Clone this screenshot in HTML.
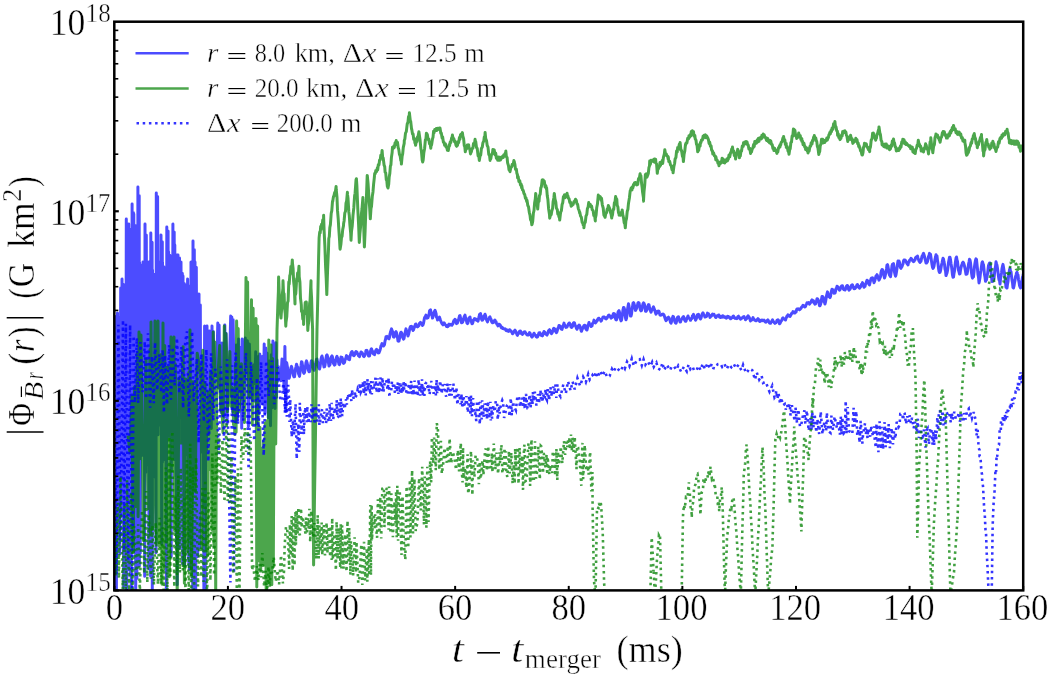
<!DOCTYPE html>
<html><head><meta charset="utf-8"><style>
html,body{margin:0;padding:0;background:#fff;}
svg{display:block;will-change:transform;}
text{font-family:"Liberation Serif",serif;fill:#000;stroke:#fff;stroke-width:0.45px;}
</style></head><body>
<svg width="1051" height="676" viewBox="0 0 1051 676">
<rect width="1051" height="676" fill="#fff"/>
<defs><clipPath id="c"><rect x="114.3" y="21.7" width="908.9" height="568.7"/></clipPath></defs>
<g clip-path="url(#c)">
<path d="M114.0 317.3L114.6 531.6L115.2 316.4L116.4 588.7L117.5 313.0L118.2 502.2L118.8 317.3L119.8 553.7L120.7 288.0L121.4 514.7L122.0 279.0L122.7 516.6L123.3 284.2L123.7 587.7L124.0 290.0L124.7 549.4L125.3 300.0L125.8 534.1L126.3 219.0L126.8 599.9L127.3 240.0L127.4 554.6L127.6 227.8L128.1 530.3L128.6 245.9L128.6 537.1L128.7 224.0L129.3 569.6L130.0 229.3L130.1 512.0L130.2 250.0L130.6 575.8L131.0 262.0L131.2 588.4L131.5 258.0L131.8 547.5L132.1 204.0L132.2 543.7L132.3 265.9L132.9 514.3L133.4 212.7L133.6 461.2L133.8 214.0L134.4 449.6L135.0 250.0L135.1 553.2L135.1 225.4L135.7 598.9L136.2 265.0L136.2 552.9L136.3 254.5L136.9 578.4L137.5 276.5L137.7 427.6L137.9 187.0L138.6 566.1L139.2 195.7L139.4 565.6L139.5 262.0L140.2 553.3L140.8 265.0L141.9 455.4L143.0 262.0L143.7 432.0L144.3 268.4L144.7 576.2L145.0 224.0L145.7 472.4L146.3 234.9L146.9 464.8L147.5 272.0L148.2 439.7L148.8 281.0L148.9 568.7L149.0 262.0L149.7 465.4L150.3 267.3L150.6 576.0L150.8 233.0L151.5 417.8L152.1 242.3L152.3 590.5L152.5 270.0L153.2 477.2L153.8 274.2L154.1 475.9L154.3 282.0L155.0 454.0L155.6 284.8L156.0 552.8L156.3 193.0L157.0 426.7L157.6 196.6L158.1 434.8L158.5 262.0L159.2 400.8L159.8 267.4L160.4 424.9L161.0 235.0L161.7 544.3L162.3 241.7L162.4 462.3L162.5 262.0L163.2 438.2L163.8 266.7L164.2 407.7L164.5 276.0L165.2 459.9L165.8 286.2L166.3 592.6L166.8 227.0L167.5 409.3L168.1 230.9L168.4 436.5L168.6 252.0L169.2 406.3L169.9 255.3L170.2 412.2L170.5 262.0L171.2 556.6L171.8 264.9L172.4 438.8L172.9 224.0L173.6 402.8L174.2 232.0L174.5 459.4L174.8 245.0L175.4 444.3L176.0 262.0L176.1 476.2L176.1 255.5L176.6 544.0L177.0 255.0L177.2 584.7L177.3 270.0L177.7 546.7L178.0 255.0L178.2 454.7L178.3 266.3L178.8 426.4L179.3 264.2L179.4 548.2L179.5 258.0L180.2 413.1L180.8 268.6L180.9 416.9L181.0 262.0L181.7 404.5L182.3 273.3L182.7 564.1L183.0 276.0L183.7 471.8L184.3 283.5L184.7 565.5L185.0 285.0L185.7 451.2L186.3 296.4L186.9 455.0L187.6 279.0L188.1 472.1L188.5 288.0L188.7 562.0L188.9 285.9L189.4 569.4L189.8 292.7L190.4 567.2L191.0 262.0L191.7 554.6L192.3 268.5L192.7 587.9L193.0 241.0L193.7 598.8L194.3 249.7L194.7 455.8L195.0 262.0L195.7 589.6L196.3 267.3L197.7 556.5L199.0 294.0L199.7 547.8L200.3 305.0L200.8 452.5L201.3 355.3L202.3 408.8L203.2 359.4L203.9 594.9L204.6 326.0L205.2 595.1L205.9 330.6L206.4 449.9L207.0 326.0L207.7 404.7L208.3 331.4L208.8 434.4L209.3 331.0L210.0 403.6L210.6 335.6L211.3 428.4L212.0 326.0L212.7 407.9L213.3 331.6L214.3 376.0L215.4 374.8L216.6 376.4L217.8 323.0L218.5 388.0L219.1 325.1L219.6 368.1L220.1 352.9L221.1 412.5L222.1 342.9L222.9 415.5L223.8 355.1L224.3 417.2L224.8 325.0L225.5 376.3L226.1 333.3L227.1 423.7L228.1 367.1L229.4 368.1L230.7 316.0L231.2 396.2L231.8 317.0L231.9 369.3L232.0 320.8L232.6 412.0L233.1 319.7L234.2 388.6L235.4 369.0L235.9 422.4L236.4 345.1L237.5 417.7L238.6 339.0L239.2 390.1L239.9 347.2L240.5 389.8L241.2 364.2L241.7 428.3L242.2 339.0L242.8 409.4L243.5 342.8L244.4 379.4L245.3 338.0L245.8 372.2L246.3 349.8L246.9 369.5L247.4 340.7L248.4 426.5L249.4 344.1L250.3 386.7L251.2 376.6L252.1 399.7L253.1 365.7L253.8 383.7L254.5 364.6L255.1 375.6L255.7 351.8L256.5 423.9L257.2 367.2L258.0 395.0L258.7 356.3L259.3 413.2L259.8 353.9L260.4 393.1L261.0 360.7L261.6 401.4L262.3 356.4L263.2 404.3L264.2 344.0L264.9 413.0L265.7 348.0L266.4 375.6L267.0 353.0L268.3 417.6L269.6 360.9L270.5 425.8L271.3 354.7L272.1 407.8L272.9 340.9L273.5 384.7L274.0 344.5L275.0 408.5L275.9 342.8L276.5 397.4L277.0 360.0L277.6 381.4L278.3 366.4L278.9 375.9L279.5 370.5L280.8 380.8L282.0 359.0L282.6 370.2L283.3 362.5L284.1 390.5L284.9 346.4L285.8 411.4L286.7 362.7L287.5 367.5L288.0 373.0L288.5 377.8L289.0 378.3L289.5 377.1L290.0 374.0L290.5 370.8L291.0 367.6L291.5 366.3L292.0 368.4L292.5 370.8L293.0 372.5L293.5 375.7L294.0 376.8L294.5 376.8L295.0 373.2L295.5 368.9L296.0 366.8L296.5 364.3L297.0 365.8L297.5 366.9L298.0 369.9L298.5 373.6L299.0 374.8L299.5 376.4L300.0 372.7L300.5 368.5L301.0 365.7L301.5 361.8L302.0 362.1L302.5 365.4L303.0 369.7L303.5 372.6L304.0 373.3L304.5 372.5L305.0 369.8L305.5 366.2L306.0 362.4L306.5 360.9L307.0 362.4L307.5 364.9L308.0 367.7L308.5 370.5L309.0 371.8L309.5 371.6L310.0 369.6L310.5 366.1L311.0 362.7L311.5 360.7L312.0 361.0L312.5 363.0L313.0 365.6L313.5 369.0L314.0 370.3L314.5 369.1L315.0 366.6L315.5 363.9L316.0 362.2L316.5 359.2L317.0 359.1L317.5 361.9L318.0 363.7L318.5 367.4L319.0 367.4L319.5 369.0L320.0 367.2L320.5 363.4L321.0 359.4L321.5 357.2L322.0 356.0L322.5 358.0L323.0 362.1L323.5 364.2L324.0 366.9L324.5 366.8L325.0 365.3L325.5 361.4L326.0 358.3L326.5 355.5L327.0 354.9L327.5 356.2L328.0 359.0L328.5 363.1L329.0 366.1L329.5 365.1L330.0 364.6L330.5 361.3L331.0 357.6L331.5 356.6L332.0 355.9L332.5 357.0L333.0 360.5L333.5 363.4L334.0 364.3L334.5 365.1L335.0 364.7L335.5 361.3L336.0 359.5L336.5 357.2L337.0 356.3L337.5 358.1L338.0 359.5L338.5 362.1L339.0 364.3L339.5 364.6L340.0 362.9L340.5 360.2L341.0 357.1L341.5 357.3L342.0 357.5L342.5 359.0L343.0 361.5L343.5 363.4L344.0 363.2L344.5 362.5L345.0 359.9L345.5 359.1L346.0 357.3L346.5 355.6L347.0 356.3L347.5 356.4L348.0 357.8L348.5 359.3L349.0 359.4L349.5 359.7L350.0 356.4L350.5 355.1L351.0 353.0L351.5 352.1L352.0 351.5L352.5 352.5L353.0 354.4L353.5 355.5L354.0 355.8L354.5 355.0L355.0 354.0L355.5 352.3L356.0 351.5L356.5 351.9L357.0 352.1L357.5 353.8L358.0 354.4L358.5 355.8L359.0 355.6L359.5 356.6L360.0 354.3L360.5 353.4L361.0 352.0L361.5 352.4L362.0 352.6L362.5 353.5L363.0 354.7L363.5 356.2L364.0 356.6L364.5 355.9L365.0 355.0L365.5 353.0L366.0 350.6L366.5 351.1L367.0 350.4L367.5 352.5L368.0 353.3L368.5 356.0L369.0 356.1L369.5 355.9L370.0 353.3L370.5 351.2L371.0 349.6L371.5 348.7L372.0 350.5L372.5 351.1L373.0 353.5L373.5 354.0L374.0 354.3L374.5 354.7L375.0 352.6L375.5 351.2L376.0 350.0L376.5 349.4L377.0 349.9L377.5 351.3L378.0 352.9L378.5 352.9L379.0 352.8L379.5 351.4L380.0 350.1L380.5 348.4L381.0 345.8L381.5 344.8L382.0 343.6L382.5 344.8L383.0 345.4L383.5 346.0L384.0 345.4L384.5 344.5L385.0 341.1L385.5 339.4L386.0 336.7L386.5 336.8L387.0 336.4L387.5 337.3L388.0 338.3L388.5 338.4L389.0 338.8L389.5 337.2L390.0 333.9L390.5 332.3L391.0 330.5L391.5 328.9L392.0 330.2L392.5 331.6L393.0 334.8L393.5 336.9L394.0 337.1L394.5 336.4L395.0 334.5L395.5 332.3L396.0 331.7L396.5 332.7L397.0 335.1L397.5 337.6L398.0 341.1L398.5 341.2L399.0 341.0L399.5 338.5L400.0 336.6L400.5 333.2L401.0 332.2L401.5 332.6L402.0 334.3L402.5 335.8L403.0 338.1L403.5 339.1L404.0 338.5L404.5 335.4L405.0 333.2L405.5 331.0L406.0 328.9L406.5 330.6L407.0 332.5L407.5 334.1L408.0 336.0L408.5 334.6L409.0 332.5L409.5 329.9L410.0 327.7L410.5 326.5L411.0 326.7L411.5 326.3L412.0 328.3L412.5 329.2L413.0 330.5L413.5 329.8L414.0 328.3L414.5 326.9L415.0 325.6L415.5 324.1L416.0 324.0L416.5 325.5L417.0 326.5L417.5 326.9L418.0 326.5L418.5 325.7L419.0 325.5L419.5 323.3L420.0 323.2L420.5 322.4L421.0 322.8L421.5 323.5L422.0 323.7L422.5 325.5L423.0 324.8L423.5 323.3L424.0 320.6L424.5 317.8L425.0 316.8L425.5 316.4L426.0 315.1L426.5 317.0L427.0 318.2L427.5 317.4L428.0 317.7L428.5 316.0L429.0 314.6L429.5 311.1L430.0 310.2L430.5 309.8L431.0 312.0L431.5 314.4L432.0 315.6L432.5 318.1L433.0 316.8L433.5 314.8L434.0 312.5L434.5 311.3L435.0 310.4L435.5 311.6L436.0 313.3L436.5 317.3L437.0 317.4L437.5 320.0L438.0 319.4L438.5 318.9L439.0 318.1L439.5 317.0L440.0 319.1L440.5 320.4L441.0 321.5L441.5 322.6L442.0 323.7L442.5 324.2L443.0 324.8L443.5 323.2L444.0 322.9L444.5 323.4L445.0 324.3L445.5 325.0L446.0 325.3L446.5 326.4L447.0 325.9L447.5 326.7L448.0 326.4L448.5 324.7L449.0 324.1L449.5 325.1L450.0 325.2L450.5 324.8L451.0 324.3L451.5 324.6L452.0 325.1L452.5 324.2L453.0 323.6L453.5 321.6L454.0 320.4L454.5 320.2L455.0 319.3L455.5 319.9L456.0 321.6L456.5 323.6L457.0 322.4L457.5 322.9L458.0 321.1L458.5 319.7L459.0 318.2L459.5 315.9L460.0 315.6L460.5 317.9L461.0 320.0L461.5 322.8L462.0 322.8L462.5 322.3L463.0 321.2L463.5 318.8L464.0 317.4L464.5 316.1L465.0 315.1L465.5 317.5L466.0 319.7L466.5 321.0L467.0 323.2L467.5 323.6L468.0 322.7L468.5 319.8L469.0 318.0L469.5 317.6L470.0 317.0L470.5 320.0L471.0 320.2L471.5 322.1L472.0 323.7L472.5 323.4L473.0 322.0L473.5 319.9L474.0 319.9L474.5 318.6L475.0 318.7L475.5 319.1L476.0 319.9L476.5 319.3L477.0 320.4L477.5 320.2L478.0 321.1L478.5 319.2L479.0 317.2L479.5 314.4L480.0 314.2L480.5 313.5L481.0 316.1L481.5 318.9L482.0 320.2L482.5 320.1L483.0 319.4L483.5 318.8L484.0 315.7L484.5 315.6L485.0 314.2L485.5 315.6L486.0 317.7L486.5 319.6L487.0 320.9L487.5 321.9L488.0 319.8L488.5 319.4L489.0 319.0L489.5 317.2L490.0 316.9L490.5 318.6L491.0 319.2L491.5 321.1L492.0 322.4L492.5 322.8L493.0 322.6L493.5 321.3L494.0 320.8L494.5 321.0L495.0 320.0L495.5 322.3L496.0 321.7L496.5 323.3L497.0 324.3L497.5 324.5L498.0 325.9L498.5 324.2L499.0 324.9L499.5 324.4L500.0 325.1L500.5 325.6L501.0 327.1L501.5 327.8L502.0 327.2L502.5 327.6L503.0 328.6L503.5 328.5L504.0 329.0L504.5 329.0L505.0 328.7L505.5 329.4L506.0 330.5L506.5 329.5L507.0 330.4L507.5 331.0L508.0 331.0L508.5 331.4L509.0 330.8L509.5 329.7L510.0 330.9L510.5 330.5L511.0 331.5L511.5 331.5L512.0 332.4L512.5 333.8L513.0 333.4L513.5 332.7L514.0 331.7L514.5 330.8L515.0 330.2L515.5 331.2L516.0 331.9L516.5 333.3L517.0 334.6L517.5 335.3L518.0 333.7L518.5 333.7L519.0 332.4L519.5 331.4L520.0 332.0L520.5 331.1L521.0 332.2L521.5 333.8L522.0 333.2L522.5 334.4L523.0 333.8L523.5 333.0L524.0 332.0L524.5 332.2L525.0 331.8L525.5 332.8L526.0 333.4L526.5 334.1L527.0 334.8L527.5 335.1L528.0 334.8L528.5 335.0L529.0 334.1L529.5 332.6L530.0 333.1L530.5 334.8L531.0 335.1L531.5 336.5L532.0 337.1L532.5 336.5L533.0 334.9L533.5 334.6L534.0 333.2L534.5 334.2L535.0 334.8L535.5 335.2L536.0 336.6L536.5 336.1L537.0 337.1L537.5 336.9L538.0 335.8L538.5 334.2L539.0 332.9L539.5 332.7L540.0 332.8L540.5 333.8L541.0 335.1L541.5 335.5L542.0 335.1L542.5 335.8L543.0 334.4L543.5 333.1L544.0 331.5L544.5 332.1L545.0 332.3L545.5 333.8L546.0 333.9L546.5 334.7L547.0 335.1L547.5 333.7L548.0 333.2L548.5 330.7L549.0 330.2L549.5 329.7L550.0 330.2L550.5 331.5L551.0 332.5L551.5 333.7L552.0 332.9L552.5 331.6L553.0 331.1L553.5 328.4L554.0 328.3L554.5 328.7L555.0 329.0L555.5 331.0L556.0 332.1L556.5 332.7L557.0 331.6L557.5 329.9L558.0 328.1L558.5 327.4L559.0 325.5L559.5 325.7L560.0 326.0L560.5 327.0L561.0 328.7L561.5 329.2L562.0 329.4L562.5 327.5L563.0 325.9L563.5 324.8L564.0 323.1L564.5 324.8L565.0 325.4L565.5 326.5L566.0 327.4L566.5 327.2L567.0 327.0L567.5 325.7L568.0 325.3L568.5 323.7L569.0 323.2L569.5 323.0L570.0 324.1L570.5 324.3L571.0 326.9L571.5 327.4L572.0 327.1L572.5 326.3L573.0 324.5L573.5 323.0L574.0 322.6L574.5 323.0L575.0 325.0L575.5 325.9L576.0 327.0L576.5 328.5L577.0 329.3L577.5 327.6L578.0 327.5L578.5 325.7L579.0 325.1L579.5 325.4L580.0 326.4L580.5 327.8L581.0 330.3L581.5 331.3L582.0 329.8L582.5 328.7L583.0 327.5L583.5 326.6L584.0 325.5L584.5 325.2L585.0 325.4L585.5 328.0L586.0 329.3L586.5 329.8L587.0 330.0L587.5 327.8L588.0 325.1L588.5 324.3L589.0 322.5L589.5 324.0L590.0 324.8L590.5 324.9L591.0 326.5L591.5 325.7L592.0 326.0L592.5 323.4L593.0 323.2L593.5 322.2L594.0 320.1L594.5 321.1L595.0 321.9L595.5 322.9L596.0 322.3L596.5 321.5L597.0 321.0L597.5 320.0L598.0 318.7L598.5 318.2L599.0 318.3L599.5 319.3L600.0 319.3L600.5 319.8L601.0 321.1L601.5 320.7L602.0 319.0L602.5 318.2L603.0 317.1L603.5 316.9L604.0 316.9L604.5 317.2L605.0 317.5L605.5 318.7L606.0 318.9L606.5 318.6L607.0 318.2L607.5 316.8L608.0 316.4L608.5 315.4L609.0 315.1L609.5 316.1L610.0 316.5L610.5 316.3L611.0 318.2L611.5 316.9L612.0 317.5L612.5 317.2L613.0 314.6L613.5 313.5L614.0 314.6L614.5 313.8L615.0 316.4L615.5 318.7L616.0 319.8L616.5 319.9L617.0 318.4L617.5 315.4L618.0 312.2L618.5 311.3L619.0 310.7L619.5 312.3L620.0 316.5L620.5 319.3L621.0 320.9L621.5 320.2L622.0 317.1L622.5 313.8L623.0 309.8L623.5 307.5L624.0 307.7L624.5 309.3L625.0 313.5L625.5 317.9L626.0 319.8L626.5 318.3L627.0 315.0L627.5 309.4L628.0 306.6L628.5 303.8L629.0 306.1L629.5 309.7L630.0 311.9L630.5 316.1L631.0 316.0L631.5 314.2L632.0 309.6L632.5 307.1L633.0 303.2L633.5 302.6L634.0 303.5L634.5 305.6L635.0 307.9L635.5 310.4L636.0 309.5L636.5 308.5L637.0 306.1L637.5 305.2L638.0 302.9L638.5 302.6L639.0 302.8L639.5 305.6L640.0 308.3L640.5 310.2L641.0 310.9L641.5 310.5L642.0 308.5L642.5 305.9L643.0 303.8L643.5 302.9L644.0 303.3L644.5 304.8L645.0 307.2L645.5 311.2L646.0 311.3L646.5 310.6L647.0 308.8L647.5 308.0L648.0 305.6L648.5 304.6L649.0 304.7L649.5 307.7L650.0 309.9L650.5 311.0L651.0 312.2L651.5 310.8L652.0 310.0L652.5 309.3L653.0 307.7L653.5 306.8L654.0 308.6L654.5 309.5L655.0 311.1L655.5 312.8L656.0 314.2L656.5 312.9L657.0 312.9L657.5 311.3L658.0 311.5L658.5 311.0L659.0 311.3L659.5 313.3L660.0 315.0L660.5 315.2L661.0 315.1L661.5 315.0L662.0 314.3L662.5 314.4L663.0 314.1L663.5 314.4L664.0 315.0L664.5 316.5L665.0 318.2L665.5 319.6L666.0 320.6L666.5 320.2L667.0 318.7L667.5 317.8L668.0 317.7L668.5 317.2L669.0 317.7L669.5 319.2L670.0 320.5L670.5 322.5L671.0 323.2L671.5 321.7L672.0 320.3L672.5 317.7L673.0 316.3L673.5 316.8L674.0 318.8L674.5 319.7L675.0 322.2L675.5 322.9L676.0 323.2L676.5 321.6L677.0 319.1L677.5 317.4L678.0 317.0L678.5 316.8L679.0 319.8L679.5 319.8L680.0 322.0L680.5 322.0L681.0 320.4L681.5 319.4L682.0 318.8L682.5 317.8L683.0 317.0L683.5 316.5L684.0 318.8L684.5 319.8L685.0 320.6L685.5 321.3L686.0 321.2L686.5 319.4L687.0 317.7L687.5 317.9L688.0 316.0L688.5 317.4L689.0 318.3L689.5 318.4L690.0 319.2L690.5 320.3L691.0 319.1L691.5 318.8L692.0 318.1L692.5 315.6L693.0 315.5L693.5 314.4L694.0 316.8L694.5 317.6L695.0 318.2L695.5 320.2L696.0 319.4L696.5 318.1L697.0 315.7L697.5 314.6L698.0 314.5L698.5 314.3L699.0 316.1L699.5 317.4L700.0 318.4L700.5 318.9L701.0 318.2L701.5 316.2L702.0 314.4L702.5 313.4L703.0 312.8L703.5 314.4L704.0 314.9L704.5 315.8L705.0 317.1L705.5 317.1L706.0 316.2L706.5 316.5L707.0 315.4L707.5 313.1L708.0 314.5L708.5 313.8L709.0 315.1L709.5 315.2L710.0 317.4L710.5 316.6L711.0 316.2L711.5 315.9L712.0 314.8L712.5 314.1L713.0 314.4L713.5 314.6L714.0 314.4L714.5 315.6L715.0 315.8L715.5 317.3L716.0 317.5L716.5 316.3L717.0 315.7L717.5 315.9L718.0 316.0L718.5 315.1L719.0 315.1L719.5 317.0L720.0 316.6L720.5 317.5L721.0 316.6L721.5 317.0L722.0 317.2L722.5 315.9L723.0 315.7L723.5 316.2L724.0 317.1L724.5 317.3L725.0 316.8L725.5 317.7L726.0 317.6L726.5 318.2L727.0 317.0L727.5 316.3L728.0 317.2L728.5 316.6L729.0 317.0L729.5 317.0L730.0 318.2L730.5 318.8L731.0 318.6L731.5 317.9L732.0 317.6L732.5 317.5L733.0 316.3L733.5 316.0L734.0 317.6L734.5 317.6L735.0 318.3L735.5 318.4L736.0 318.4L736.5 317.9L737.0 318.6L737.5 318.0L738.0 316.5L738.5 316.2L739.0 317.5L739.5 317.6L740.0 318.4L740.5 319.2L741.0 318.3L741.5 318.5L742.0 317.9L742.5 317.7L743.0 317.1L743.5 316.8L744.0 316.5L744.5 317.9L745.0 318.2L745.5 319.8L746.0 318.9L746.5 318.7L747.0 317.8L747.5 316.5L748.0 315.8L748.5 316.4L749.0 317.0L749.5 318.1L750.0 319.5L750.5 321.0L751.0 320.3L751.5 320.1L752.0 319.6L752.5 318.7L753.0 317.6L753.5 319.0L754.0 319.2L754.5 320.0L755.0 320.4L755.5 320.2L756.0 320.8L756.5 320.6L757.0 319.9L757.5 319.3L758.0 318.6L758.5 319.3L759.0 319.7L759.5 321.3L760.0 321.5L760.5 320.8L761.0 320.7L761.5 320.1L762.0 320.6L762.5 320.1L763.0 320.5L763.5 320.5L764.0 320.1L764.5 320.8L765.0 321.7L765.5 322.1L766.0 322.2L766.5 321.7L767.0 320.6L767.5 320.7L768.0 319.9L768.5 321.6L769.0 321.6L769.5 323.0L770.0 323.3L770.5 323.3L771.0 322.2L771.5 321.8L772.0 320.8L772.5 319.8L773.0 321.1L773.5 321.7L774.0 322.4L774.5 322.7L775.0 323.4L775.5 322.7L776.0 322.7L776.5 321.5L777.0 320.2L777.5 320.6L778.0 319.8L778.5 320.3L779.0 322.0L779.5 323.8L780.0 323.4L780.5 322.1L781.0 321.3L781.5 320.7L782.0 319.5L782.5 318.4L783.0 317.9L783.5 319.0L784.0 319.0L784.5 319.2L785.0 319.6L785.5 320.0L786.0 318.4L786.5 317.4L787.0 316.0L787.5 316.1L788.0 314.8L788.5 316.0L789.0 315.6L789.5 315.6L790.0 316.4L790.5 315.6L791.0 314.7L791.5 313.4L792.0 313.4L792.5 312.9L793.0 311.6L793.5 312.0L794.0 312.4L794.5 313.0L795.0 313.0L795.5 311.5L796.0 312.1L796.5 310.1L797.0 308.9L797.5 309.0L798.0 308.7L798.5 309.3L799.0 309.0L799.5 309.8L800.0 309.2L800.5 308.9L801.0 308.3L801.5 307.3L802.0 306.7L802.5 306.2L803.0 305.3L803.5 306.2L804.0 306.5L804.5 306.8L805.0 307.0L805.5 306.5L806.0 304.8L806.5 304.1L807.0 302.8L807.5 303.1L808.0 302.9L808.5 302.6L809.0 302.9L809.5 304.1L810.0 303.4L810.5 302.4L811.0 302.4L811.5 300.6L812.0 299.9L812.5 300.4L813.0 300.5L813.5 300.8L814.0 303.0L814.5 302.8L815.0 304.1L815.5 303.9L816.0 301.8L816.5 301.1L817.0 298.7L817.5 298.7L818.0 299.5L818.5 301.0L819.0 303.3L819.5 305.7L820.0 305.8L820.5 304.4L821.0 302.5L821.5 299.4L822.0 296.4L822.5 296.4L823.0 296.8L823.5 298.5L824.0 301.8L824.5 302.3L825.0 304.0L825.5 302.0L826.0 299.0L826.5 295.9L827.0 293.8L827.5 291.9L828.0 293.8L828.5 295.0L829.0 296.6L829.5 297.0L830.0 297.6L830.5 296.5L831.0 293.1L831.5 290.9L832.0 289.3L832.5 289.5L833.0 290.1L833.5 291.0L834.0 293.3L834.5 292.3L835.0 293.0L835.5 291.4L836.0 288.6L836.5 288.4L837.0 286.3L837.5 286.8L838.0 287.0L838.5 288.4L839.0 289.4L839.5 290.2L840.0 289.7L840.5 288.4L841.0 287.2L841.5 286.1L842.0 285.8L842.5 285.8L843.0 287.7L843.5 289.2L844.0 289.7L844.5 289.9L845.0 290.0L845.5 289.0L846.0 287.5L846.5 286.2L847.0 285.5L847.5 285.5L848.0 286.6L848.5 289.2L849.0 290.2L849.5 289.5L850.0 289.3L850.5 287.9L851.0 286.6L851.5 285.3L852.0 286.0L852.5 284.9L853.0 287.2L853.5 287.1L854.0 288.7L854.5 288.7L855.0 288.5L855.5 287.9L856.0 286.6L856.5 286.2L857.0 284.8L857.5 284.5L858.0 286.7L858.5 286.1L859.0 287.4L859.5 288.2L860.0 286.6L860.5 287.0L861.0 285.6L861.5 284.4L862.0 284.1L862.5 282.6L863.0 284.5L863.5 285.5L864.0 287.3L864.5 286.5L865.0 286.3L865.5 284.2L866.0 283.3L866.5 281.7L867.0 280.2L867.5 280.5L868.0 283.1L868.5 283.3L869.0 284.1L869.5 284.9L870.0 282.6L870.5 280.6L871.0 278.9L871.5 278.1L872.0 278.1L872.5 277.9L873.0 280.2L873.5 280.5L874.0 282.8L874.5 281.5L875.0 280.0L875.5 277.8L876.0 276.0L876.5 275.5L877.0 274.7L877.5 275.8L878.0 278.0L878.5 278.8L879.0 280.2L879.5 279.1L880.0 278.0L880.5 276.7L881.0 272.3L881.5 270.6L882.0 269.5L882.5 269.6L883.0 271.2L883.5 274.1L884.0 276.2L884.5 278.0L885.0 276.6L885.5 274.3L886.0 271.7L886.5 268.8L887.0 265.0L887.5 264.7L888.0 266.7L888.5 269.6L889.0 273.4L889.5 275.2L890.0 275.7L890.5 276.7L891.0 273.4L891.5 270.1L892.0 265.7L892.5 264.4L893.0 264.1L893.5 263.6L894.0 267.0L894.5 272.1L895.0 274.5L895.5 276.2L896.0 274.8L896.5 271.8L897.0 268.3L897.5 263.9L898.0 260.9L898.5 261.3L899.0 261.0L899.5 262.3L900.0 265.8L900.5 267.7L901.0 268.3L901.5 266.8L902.0 266.7L902.5 265.0L903.0 263.9L903.5 260.9L904.0 260.0L904.5 259.9L905.0 259.9L905.5 260.6L906.0 261.4L906.5 262.6L907.0 263.6L907.5 263.5L908.0 264.9L908.5 262.2L909.0 262.3L909.5 260.4L910.0 260.0L910.5 259.4L911.0 258.4L911.5 258.9L912.0 259.7L912.5 260.7L913.0 260.4L913.5 261.7L914.0 261.3L914.5 260.1L915.0 259.9L915.5 257.9L916.0 257.2L916.5 256.9L917.0 256.7L917.5 256.0L918.0 258.2L918.5 259.5L919.0 260.9L919.5 261.6L920.0 262.4L920.5 260.8L921.0 261.2L921.5 258.5L922.0 256.3L922.5 255.5L923.0 254.6L923.5 253.4L924.0 254.7L924.5 256.7L925.0 258.9L925.5 260.7L926.0 263.0L926.5 263.0L927.0 262.4L927.5 261.5L928.0 258.6L928.5 256.7L929.0 255.2L929.5 253.4L930.0 254.0L930.5 254.3L931.0 257.8L931.5 261.1L932.0 264.5L932.5 267.2L933.0 268.4L933.5 267.7L934.0 266.0L934.5 262.8L935.0 259.3L935.5 257.2L936.0 254.8L936.5 256.4L937.0 256.1L937.5 260.6L938.0 263.8L938.5 268.2L939.0 271.2L939.5 272.5L940.0 272.4L940.5 270.8L941.0 268.1L941.5 264.8L942.0 263.1L942.5 260.6L943.0 258.3L943.5 259.1L944.0 261.9L944.5 264.3L945.0 269.1L945.5 270.7L946.0 275.6L946.5 274.3L947.0 273.0L947.5 270.7L948.0 266.8L948.5 262.5L949.0 259.8L949.5 257.2L950.0 257.2L950.5 259.6L951.0 263.5L951.5 266.4L952.0 270.3L952.5 275.0L953.0 277.3L953.5 277.0L954.0 273.4L954.5 271.0L955.0 266.0L955.5 261.4L956.0 258.2L956.5 257.0L957.0 259.9L957.5 261.5L958.0 266.3L958.5 270.3L959.0 271.8L959.5 274.0L960.0 273.7L960.5 270.1L961.0 267.8L961.5 265.7L962.0 264.3L962.5 262.7L963.0 262.2L963.5 262.8L964.0 264.2L964.5 266.1L965.0 268.4L965.5 271.2L966.0 274.3L966.5 273.6L967.0 273.9L967.5 271.6L968.0 268.0L968.5 264.4L969.0 262.0L969.5 259.3L970.0 260.0L970.5 262.7L971.0 267.5L971.5 272.8L972.0 276.3L972.5 278.1L973.0 276.5L973.5 276.9L974.0 272.2L974.5 266.4L975.0 262.9L975.5 260.2L976.0 258.8L976.5 259.6L977.0 264.3L977.5 269.1L978.0 274.8L978.5 277.1L979.0 282.9L979.5 280.6L980.0 277.6L980.5 272.9L981.0 270.2L981.5 266.1L982.0 262.7L982.5 261.8L983.0 263.9L983.5 264.8L984.0 269.4L984.5 274.6L985.0 277.3L985.5 281.3L986.0 280.1L986.5 279.8L987.0 275.9L987.5 274.1L988.0 269.6L988.5 265.5L989.0 264.2L989.5 263.1L990.0 263.1L990.5 266.9L991.0 271.3L991.5 276.6L992.0 281.6L992.5 281.2L993.0 281.3L993.5 280.5L994.0 278.4L994.5 273.5L995.0 268.9L995.5 266.7L996.0 261.8L996.5 263.7L997.0 265.2L997.5 268.5L998.0 272.3L998.5 276.6L999.0 279.8L999.5 280.5L1000.0 284.1L1000.5 279.0L1001.0 276.1L1001.5 273.0L1002.0 268.6L1002.5 266.2L1003.0 264.4L1003.5 267.3L1004.0 270.4L1004.5 273.2L1005.0 277.9L1005.5 282.2L1006.0 287.3L1006.5 285.8L1007.0 288.1L1007.5 284.1L1008.0 281.7L1008.5 276.7L1009.0 273.2L1009.5 269.8L1010.0 268.4L1010.5 271.5L1011.0 271.6L1011.5 276.1L1012.0 280.1L1012.5 282.6L1013.0 287.5L1013.5 288.0L1014.0 285.9L1014.5 282.8L1015.0 280.5L1015.5 276.8L1016.0 275.1L1016.5 273.1L1017.0 272.2L1017.5 274.2L1018.0 275.0L1018.5 279.7L1019.0 282.0L1019.5 285.4L1020.0 286.8L1020.5 287.9L1021.0 284.9L1021.5 284.0L1022.0 280.5L1022.5 277.1L1023.0 275.6L1023.5 273.4L1024.0 272.0L1024.5 274.3L1025.0 278.1" stroke="#0000ff" stroke-opacity="0.7" stroke-width="3.0" fill="none" stroke-linejoin="round"/>
<path d="M128.0 435.5L130.0 452.7L131.9 396.4L133.2 552.5L134.6 386.9L135.9 506.7L137.3 353.4L138.1 516.8L139.0 332.0L140.0 458.8L141.0 335.0L143.5 540.8L146.0 359.0L148.0 508.4L150.0 349.5L150.5 533.5L151.0 322.0L153.0 528.7L155.0 321.0L156.5 543.1L158.0 321.0L159.5 546.6L161.0 354.8L162.0 584.2L163.0 323.0L163.8 568.9L164.7 345.6L166.2 541.6L167.7 367.1L169.4 576.8L171.0 337.0L172.5 470.5L174.0 337.0L174.6 530.8L175.3 363.8L177.2 594.7L179.1 378.2L181.1 443.0L183.1 346.8L184.4 583.2L185.7 379.1L187.3 551.6L188.8 372.5L189.4 539.1L190.0 330.0L191.5 576.8L192.9 381.7L195.1 491.4L197.2 353.2L201.0 376.5L202.0 548.3L202.9 350.3L204.0 505.3L205.0 383.6L206.1 549.4L207.2 405.2L207.8 555.6L208.4 392.1L209.6 469.5L210.8 371.9L212.0 530.3L213.2 332.0L214.0 546.5L214.8 341.9L215.7 595.2L216.6 399.1L217.3 385.2L218.1 372.4L218.9 358.7L219.7 345.5L220.7 410.4L221.7 403.7L223.0 432.8L224.3 326.0L225.1 383.5L225.9 333.7L226.6 350.9L227.4 411.8L228.2 390.4L229.0 376.8L229.9 351.5L230.8 406.2L231.8 387.3L232.9 389.1L233.5 424.8L234.1 400.3L234.8 434.5L235.6 363.0L236.1 432.2L236.6 321.0L237.4 358.1L238.2 328.4L239.0 412.0L239.8 401.4L240.6 397.8L241.4 363.8L242.2 395.0L243.0 372.7L244.5 422.6L246.0 277.6L246.8 364.6L247.6 281.9L248.3 373.0L249.0 397.0L250.2 384.2L251.5 299.7L252.3 424.7L253.1 308.2L253.7 401.2L254.3 357.1L255.2 373.7L256.0 318.6L256.8 587.1L257.6 325.9L258.8 560.8L259.9 427.3L260.7 569.8L261.5 448.3L262.6 563.8L263.6 440.6L264.5 565.0L265.3 423.0L266.2 595.6L267.0 420.8L267.9 583.1L268.8 340.0L269.6 580.4L270.4 348.8L270.7 583.5L271.0 345.0L271.8 584.8L272.6 358.6L273.3 567.0L273.9 438.8L274.8 396.3L275.7 444.0L277.0 330.7L277.8 306.4L278.4 291.3L278.6 276.9L279.4 299.1L280.0 302.4L280.6 314.9L281.0 318.1L281.7 307.9L282.2 295.3L282.9 288.5L283.0 280.7L283.5 292.9L284.1 293.8L284.6 308.2L285.2 313.2L285.8 326.3L286.0 322.3L286.8 316.5L287.5 302.8L288.1 301.1L288.8 281.9L289.2 284.2L289.8 275.5L290.3 274.2L290.9 266.4L291.6 269.7L292.3 259.9L292.5 263.3L293.1 268.6L293.6 281.0L294.3 287.6L295.0 303.9L295.0 295.9L295.8 293.5L296.7 278.7L297.0 281.3L297.6 273.0L298.2 276.3L299.0 266.2L299.2 276.6L299.9 281.9L300.5 298.3L301.3 304.9L301.5 311.4L302.2 311.1L302.8 319.2L303.5 315.6L303.6 324.4L304.1 311.1L304.6 313.7L305.2 302.7L305.8 301.9L306.3 302.0L306.7 314.0L307.3 314.7L307.8 330.4L308.0 326.6L308.9 320.5L309.6 303.2L310.1 300.3L311.0 280.7L311.0 287.6L311.6 298.4L312.2 319.8L312.6 329.4L313.2 500.5L313.6 565.1L314.1 529.4L314.5 497.2L315.3 447.1L315.8 412.4L316.6 355.4L317.0 329.4L317.9 292.5L318.6 257.8L319.1 237.8L319.7 232.1L320.2 232.9L320.7 226.4L321.0 229.5L321.6 224.2L322.2 226.4L322.7 220.1L323.6 220.3L323.6 215.3L324.1 230.4L324.9 246.6L325.6 266.7L326.2 278.3L326.8 294.6L327.6 269.7L328.5 249.1L328.8 238.5L329.3 236.5L329.8 227.8L330.4 224.6L331.2 213.5L331.8 210.6L332.5 201.3L332.7 201.4L333.5 196.4L333.9 196.1L334.7 192.4L335.3 192.4L336.1 186.5L336.2 189.2L337.0 197.5L337.5 210.4L338.2 218.5L338.7 227.4L339.5 239.2L340.0 248.3L340.1 249.2L340.9 244.3L341.5 237.7L342.1 236.2L342.7 229.6L343.5 225.7L343.6 223.5L344.1 221.0L344.8 213.0L345.5 211.3L346.0 203.2L346.6 201.1L347.4 192.3L347.5 194.4L348.0 198.1L348.8 211.7L349.3 215.6L349.9 224.8L350.7 233.4L351.0 240.3L351.5 231.3L352.2 226.3L353.0 215.3L353.8 207.9L354.6 195.8L355.1 193.2L356.0 180.0L356.4 178.7L356.9 186.2L357.8 209.0L358.6 224.6L359.3 242.4L359.9 233.5L360.6 226.6L361.4 213.9L362.0 208.8L362.9 197.6L362.9 199.4L363.4 212.7L364.0 235.9L364.4 247.0L365.1 231.2L365.8 210.9L366.4 198.4L367.2 175.5L367.3 175.6L368.1 184.0L368.8 195.7L369.6 207.0L370.3 218.8L371.0 208.5L371.5 206.5L372.3 196.4L373.0 191.7L373.6 184.2L374.3 177.9L374.7 173.5L375.2 173.7L375.8 170.6L376.5 171.7L377.4 167.8L377.7 169.9L378.3 164.8L379.0 164.9L379.6 160.0L380.2 159.9L380.8 155.2L381.6 155.4L382.1 150.4L382.7 157.8L383.2 158.0L384.1 165.2L384.7 166.6L385.1 172.1L385.7 172.9L386.3 179.8L386.8 180.6L387.3 186.2L388.0 188.0L388.7 184.2L389.2 177.0L389.8 173.6L390.4 166.0L390.9 164.8L391.4 157.6L392.1 152.8L392.5 147.2L393.3 148.5L393.8 146.1L394.3 147.6L395.1 142.8L395.7 144.5L396.2 140.6L396.9 143.0L397.5 142.4L398.1 147.3L398.8 149.6L399.4 154.1L400.2 156.1L400.8 160.5L401.3 161.3L401.4 164.1L402.1 156.5L402.7 153.6L403.3 147.4L404.2 143.4L404.3 140.4L404.9 138.7L405.5 133.1L406.3 131.6L407.2 124.1L408.0 122.0L408.5 116.9L409.3 115.1L409.4 112.8L410.3 120.7L410.7 121.3L411.6 129.4L411.7 129.0L412.5 134.0L413.1 134.0L413.7 139.3L414.5 138.6L414.9 142.9L415.5 143.8L415.6 145.3L416.2 141.9L416.9 141.6L417.5 137.0L418.1 136.3L418.9 131.7L419.1 133.1L420.0 139.5L420.9 148.9L421.4 150.9L422.2 160.2L422.7 162.0L423.2 159.8L423.8 153.1L424.6 148.4L425.4 139.6L425.9 139.2L426.4 133.2L426.5 133.2L427.3 134.5L428.1 139.4L428.8 139.0L429.5 143.8L430.0 142.8L430.8 148.2L431.0 145.8L431.6 144.9L432.5 138.9L433.0 137.3L433.6 131.2L434.0 132.9L434.8 129.4L435.6 130.6L436.3 128.5L437.0 130.4L437.6 128.4L438.4 129.1L439.1 128.2L439.7 129.8L440.0 128.0L440.8 133.3L441.3 133.1L442.1 137.9L442.6 136.8L443.4 142.2L444.1 142.5L444.6 145.2L445.4 143.8L446.0 147.0L446.7 147.0L447.4 150.3L448.0 147.6L448.3 150.6L449.2 144.8L449.6 145.7L450.2 141.9L450.8 142.6L451.6 138.0L452.2 137.0L452.4 135.1L453.0 138.1L453.8 138.5L454.5 141.7L455.1 141.2L456.0 145.3L456.6 146.3L457.5 145.3L458.1 141.8L458.7 142.5L459.4 137.6L459.9 139.2L460.5 134.8L460.7 135.8L461.3 134.1L461.7 135.7L462.4 132.6L462.8 135.9L463.6 138.6L464.3 145.8L464.8 146.6L465.3 151.8L465.8 148.7L466.5 149.0L467.3 145.0L468.0 145.3L468.6 144.8L469.1 148.3L469.8 149.1L470.5 153.9L470.6 153.5L471.4 151.7L472.0 148.4L472.9 148.2L473.5 143.5L474.3 144.9L475.1 139.3L475.2 141.2L475.7 141.4L476.5 147.5L477.2 148.4L478.1 155.8L478.9 156.7L479.3 160.4L480.0 156.1L480.7 155.0L481.4 148.6L482.3 147.0L482.9 142.8L483.8 140.9L484.3 136.9L484.9 136.4L485.1 132.5L485.7 138.6L486.5 140.5L487.2 145.5L488.0 147.2L488.8 154.7L489.5 155.0L490.1 160.4L490.3 158.8L490.8 158.8L491.5 154.5L492.4 153.6L492.9 149.4L493.4 150.8L494.2 149.8L495.0 154.7L495.7 153.2L496.4 158.3L497.0 157.1L497.7 160.1L498.2 157.1L499.1 160.4L499.8 157.3L500.5 160.0L501.1 157.4L501.9 158.1L502.5 156.4L503.2 157.5L503.9 154.9L504.4 156.0L505.2 153.2L505.8 154.8L505.8 151.0L506.4 156.8L507.1 157.6L507.6 162.9L508.5 165.7L509.0 169.9L509.4 169.6L510.0 171.7L510.9 167.5L511.5 167.1L512.3 164.2L513.1 165.1L513.9 160.5L514.1 161.5L514.9 164.5L515.5 169.4L516.4 169.3L516.9 173.7L517.4 174.4L517.6 177.9L518.2 176.6L518.9 181.6L519.7 180.6L520.5 185.1L521.1 184.1L521.6 187.7L521.8 185.8L522.5 189.9L523.2 190.3L524.0 193.6L524.7 194.5L525.4 198.2L525.9 197.7L526.7 201.3L527.0 200.1L527.8 205.5L528.5 206.8L529.3 212.3L530.0 215.1L530.5 219.5L531.4 221.3L531.8 224.8L532.1 224.3L532.7 221.5L533.4 213.0L534.0 210.6L534.6 203.0L535.3 199.0L535.7 193.4L536.6 201.8L537.1 203.2L537.7 209.0L538.3 201.9L539.0 201.3L539.5 195.4L540.2 194.2L540.8 188.0L541.4 186.7L542.2 179.9L542.5 179.8L543.2 179.9L543.8 182.3L544.3 181.2L545.1 187.0L545.8 185.5L546.4 189.0L546.6 187.8L547.3 196.1L547.9 199.6L548.6 208.7L549.5 214.5L549.7 218.2L550.5 215.1L551.2 214.7L551.8 211.1L552.6 208.3L553.1 201.9L553.9 197.7L554.3 193.5L555.0 199.2L555.8 202.1L556.4 208.1L557.3 209.7L557.8 214.1L558.3 212.7L558.9 216.9L559.4 217.2L559.7 220.0L560.6 212.3L561.4 210.6L562.1 204.4L562.8 202.4L563.4 196.7L563.8 196.7L564.5 194.8L565.1 197.7L565.6 194.7L566.4 196.8L567.1 193.3L567.3 196.8L567.8 195.7L568.5 198.4L569.1 198.8L569.8 202.5L570.4 201.9L571.2 206.3L571.5 204.6L572.0 205.4L572.6 203.7L573.1 204.5L574.0 201.4L574.7 201.5L575.5 199.2L575.6 200.9L576.3 200.3L576.9 203.7L577.6 204.2L578.3 208.6L579.1 210.5L579.7 213.3L579.8 212.3L580.6 216.2L581.3 217.1L582.2 222.6L582.8 222.8L583.3 225.4L583.9 225.5L583.9 227.7L584.5 223.2L585.3 222.2L586.0 216.1L586.8 214.3L587.4 208.7L588.1 207.2L588.7 202.6L589.4 206.1L590.3 204.3L591.0 206.9L591.6 206.0L592.2 209.7L593.1 210.5L593.8 215.5L594.6 215.4L595.3 220.9L595.3 218.3L596.1 214.8L596.7 207.8L597.4 204.3L598.3 195.1L598.4 197.6L598.9 196.5L599.5 197.9L600.3 196.7L601.1 200.2L601.5 198.2L602.3 204.8L603.2 208.0L603.9 215.2L604.6 216.2L605.1 217.3L605.7 213.7L606.5 212.7L607.2 209.1L607.7 209.8L608.3 205.6L608.7 206.3L609.6 208.3L610.3 212.1L611.1 214.3L611.7 218.1L611.8 217.0L612.5 214.9L613.1 209.6L613.7 209.6L614.4 202.7L614.9 202.8L615.6 196.6L616.0 198.1L616.8 199.3L617.2 205.3L617.9 207.0L618.5 212.9L619.0 213.1L619.1 215.2L619.6 213.4L620.5 215.1L621.1 212.5L621.8 213.7L622.2 209.9L622.9 215.4L623.5 217.6L624.2 222.8L624.8 223.6L625.3 227.8L625.9 220.9L626.5 218.6L627.2 211.6L627.9 209.3L628.5 203.2L629.4 198.0L630.2 190.9L630.5 190.5L631.2 188.0L632.0 189.9L632.1 187.0L632.9 187.7L633.5 184.5L634.0 185.3L634.5 182.9L635.2 182.5L636.1 182.8L636.9 184.9L637.2 183.4L637.7 184.5L638.5 178.6L639.3 178.5L640.1 173.8L640.4 175.1L640.9 175.8L641.6 183.6L642.1 187.2L642.6 192.3L643.5 198.1L643.5 201.2L644.0 191.9L644.7 185.2L645.4 174.4L645.5 176.0L646.3 173.9L646.9 177.2L647.6 175.5L648.3 173.6L648.9 167.8L649.5 165.9L649.7 161.1L650.3 164.4L651.1 160.3L651.9 161.4L652.4 160.2L652.8 161.3L653.3 159.8L654.0 161.9L654.5 158.9L655.0 162.3L655.6 159.2L655.9 162.9L656.6 164.1L657.3 173.3L658.0 167.9L658.5 168.7L659.0 166.5L659.5 166.8L660.0 162.4L660.5 165.4L661.2 162.0L661.7 163.3L662.4 160.4L662.7 163.4L663.4 157.5L664.3 154.2L664.8 149.7L665.6 154.4L666.3 154.0L666.8 155.8L667.6 155.9L668.2 159.3L668.3 157.1L668.8 161.6L669.6 161.2L670.5 164.9L671.2 165.7L672.0 169.6L672.8 169.4L673.1 172.8L673.9 166.4L674.6 163.5L675.1 159.0L675.9 157.6L676.6 151.0L677.2 152.0L677.7 147.5L678.4 149.2L679.3 144.3L679.9 145.3L680.1 142.5L680.9 150.2L681.5 150.3L682.4 156.1L683.1 157.7L683.4 161.6L684.1 154.1L684.8 150.9L685.5 144.3L685.5 145.4L686.1 142.9L686.9 142.9L687.7 138.3L688.5 138.9L689.0 135.7L689.6 137.3L690.1 134.7L690.8 135.9L691.3 131.4L691.8 134.2L692.4 130.7L692.7 132.2L693.5 131.6L694.0 136.2L694.8 135.3L695.2 138.7L696.0 140.2L696.5 144.4L697.0 144.7L697.7 151.8L697.9 150.4L698.7 150.4L699.5 144.5L700.1 146.0L700.4 142.6L700.9 142.8L701.5 139.9L702.4 140.0L703.2 135.9L703.5 138.2L704.2 135.4L704.7 137.2L705.5 134.8L706.1 137.8L706.7 135.9L707.6 137.6L708.4 139.5L709.1 143.6L709.7 142.2L710.4 146.3L711.1 145.9L711.6 150.2L712.4 150.8L712.8 154.1L713.6 152.8L714.4 155.9L715.3 156.0L715.8 159.8L715.9 156.9L716.6 160.2L717.2 160.2L718.0 163.3L718.5 163.2L719.0 165.8L719.7 162.3L720.2 163.9L720.8 161.7L721.5 162.4L722.1 158.3L722.1 161.8L722.8 158.7L723.6 162.5L724.4 160.0L724.9 162.9L725.2 160.8L726.0 161.7L726.8 159.1L727.5 160.8L728.0 158.2L728.3 159.2L729.0 154.9L729.7 156.9L730.6 152.6L731.1 152.3L731.7 149.1L732.4 150.1L732.5 147.1L733.1 152.2L733.8 151.1L734.3 155.5L735.1 154.6L735.6 159.0L736.4 153.1L737.2 153.3L737.7 149.3L738.3 153.5L738.8 152.3L739.4 157.8L739.7 155.4L740.3 156.0L741.0 150.7L741.5 151.4L742.3 145.9L743.2 146.3L743.5 142.8L744.1 144.4L744.7 142.1L745.5 143.8L746.1 141.6L746.5 143.0L747.0 141.8L747.7 145.0L748.2 145.0L748.9 148.9L749.8 148.3L750.6 153.4L750.7 152.2L751.5 151.9L752.3 148.6L752.9 148.1L753.6 144.5L754.2 146.5L754.8 141.5L755.3 142.6L755.8 141.6L756.5 143.1L757.3 139.7L758.0 141.9L758.5 138.2L759.0 141.3L759.4 138.1L760.3 139.2L760.8 137.4L761.4 138.9L761.9 135.2L762.6 137.3L763.2 133.9L763.5 136.6L764.2 134.9L765.0 137.5L765.8 137.9L766.5 140.4L766.6 138.0L767.2 140.2L767.7 138.5L768.2 141.5L768.7 139.9L769.5 142.9L770.2 140.5L770.7 142.9L770.8 141.1L771.5 144.4L772.2 144.5L772.9 148.5L773.5 147.6L773.9 150.5L774.7 148.5L775.5 150.6L776.0 150.3L776.9 153.4L777.0 150.3L777.8 151.9L778.5 147.8L778.9 148.1L779.6 145.8L780.1 146.8L780.1 144.5L780.7 144.9L781.2 142.2L782.1 141.7L782.9 138.1L783.4 140.5L783.6 136.5L784.1 140.1L784.8 139.8L785.4 144.5L786.2 143.5L786.3 147.4L787.2 146.6L788.0 151.1L788.7 152.0L789.0 154.2L789.7 149.6L790.2 148.9L790.9 142.4L791.5 142.0L792.1 136.1L792.8 136.2L793.4 129.0L794.0 129.3L794.9 130.5L795.7 136.0L796.4 136.3L796.7 138.5L797.4 135.6L798.0 137.3L798.7 133.1L799.4 136.1L800.2 135.6L800.9 139.5L801.8 138.6L801.8 141.3L802.5 141.1L803.1 144.7L803.9 143.0L804.7 146.9L805.0 146.3L805.6 149.6L806.4 147.7L807.2 151.0L807.9 149.7L808.0 153.0L808.6 148.4L809.1 151.2L810.0 146.2L810.6 146.4L811.2 142.8L812.0 144.0L812.4 140.6L813.0 141.1L813.6 137.2L814.1 137.9L814.3 135.5L815.1 139.0L815.7 137.8L816.4 141.0L816.7 141.1L817.4 146.5L818.0 148.2L818.8 154.5L819.0 153.2L819.7 151.7L820.2 146.0L821.0 143.8L821.5 139.3L822.1 141.7L822.7 139.2L823.4 142.9L824.3 141.0L824.6 142.6L825.2 140.3L826.1 140.8L826.8 138.0L827.3 140.1L827.7 138.8L828.4 137.6L828.9 134.8L829.4 134.8L829.8 132.5L830.3 133.9L831.0 130.6L831.4 131.8L832.1 127.9L832.9 129.2L833.6 123.7L834.5 124.9L834.9 121.4L835.4 126.4L836.0 126.8L836.7 130.8L837.4 131.3L837.6 135.5L838.2 133.6L838.8 137.4L839.3 137.0L840.0 139.6L840.3 138.6L840.9 138.4L841.6 134.9L842.1 136.0L842.7 131.5L842.8 133.7L843.5 131.3L844.2 132.3L845.0 130.9L845.3 132.7L845.9 132.1L846.4 135.4L846.9 136.0L847.8 141.4L848.0 139.0L848.6 139.8L849.4 137.1L850.1 137.6L850.6 135.2L851.4 139.7L852.1 138.7L852.8 143.4L853.1 141.3L853.9 142.1L854.5 140.3L855.3 141.0L855.8 138.3L856.2 141.3L857.0 139.7L857.7 143.8L858.2 143.0L858.7 146.6L859.2 145.5L859.3 147.5L859.9 147.5L860.5 150.8L861.2 151.5L861.9 154.8L862.4 155.0L863.0 152.7L863.5 147.3L864.2 145.7L864.5 143.2L865.4 145.1L866.2 143.7L867.1 147.3L867.8 147.2L868.3 149.5L868.8 147.9L869.7 151.6L869.7 149.2L870.5 146.7L871.2 140.2L872.1 138.5L872.6 133.3L872.8 133.6L873.4 133.2L874.2 136.9L875.0 137.3L875.7 140.2L875.9 138.0L876.4 138.4L877.0 134.1L877.5 134.1L878.4 130.1L878.8 130.3L879.0 126.9L879.8 132.6L880.4 134.4L881.1 140.2L881.8 141.4L882.1 145.0L882.8 144.0L883.6 146.4L884.4 144.2L884.9 147.0L885.5 144.1L886.2 146.8L886.3 144.1L886.9 147.9L887.5 145.8L888.1 148.1L888.9 146.4L889.6 149.8L890.1 146.9L890.4 149.0L891.2 145.1L891.8 146.2L892.3 141.1L893.1 141.2L893.5 139.0L894.0 142.9L894.5 142.7L895.3 147.0L895.8 147.2L896.3 150.9L896.6 148.8L897.3 150.6L898.2 148.7L898.8 150.5L899.6 147.9L899.7 149.1L900.4 146.0L901.0 147.1L901.8 141.7L902.6 141.2L902.8 139.2L903.5 141.9L904.0 139.6L904.5 143.6L905.3 141.8L905.9 144.5L906.6 143.3L907.0 144.7L907.5 144.4L908.1 145.6L908.9 145.5L909.4 146.6L910.2 145.9L910.7 148.7L911.1 146.9L911.6 148.6L912.3 147.2L912.9 151.9L913.6 150.0L914.1 152.7L914.9 150.6L915.2 153.5L915.8 149.3L916.6 148.1L917.1 145.2L917.7 145.6L918.3 140.2L919.1 144.5L919.6 144.4L920.2 147.0L920.7 146.3L921.2 151.0L921.4 148.2L922.1 151.0L922.8 150.8L923.5 152.0L924.3 148.0L924.9 148.0L925.6 143.7L925.6 146.1L926.2 145.1L926.9 148.9L927.8 148.5L928.5 153.9L928.7 151.0L929.5 148.3L930.1 141.9L930.7 141.6L930.8 137.8L931.6 145.4L932.3 148.0L932.8 152.7L933.6 146.4L934.4 144.7L935.0 137.7L935.8 135.3L935.9 134.0L936.6 135.7L937.5 135.1L938.3 138.2L938.8 137.5L939.4 140.5L939.8 139.7L940.1 142.3L940.8 138.3L941.6 137.0L942.4 132.7L943.0 133.8L943.2 131.5L943.8 133.9L944.3 131.7L945.0 135.2L945.8 134.9L946.5 138.1L947.3 136.4L947.3 138.1L947.9 134.9L948.5 136.4L948.9 133.7L949.4 135.7L950.2 131.6L950.8 133.1L951.2 130.2L951.8 130.7L952.3 127.6L953.1 129.4L953.5 125.4L954.4 129.5L955.2 128.8L956.0 132.7L956.6 131.5L957.5 134.4L957.9 132.1L958.5 133.4L959.3 132.2L959.8 134.9L960.7 133.8L961.5 138.1L962.3 137.6L962.9 140.9L963.6 140.2L964.3 141.9L964.8 140.1L964.9 142.7L965.5 145.9L966.1 153.0L966.6 155.2L967.3 154.5L968.0 151.2L968.4 152.5L968.9 148.1L969.1 150.4L969.6 147.1L970.3 146.2L971.1 142.6L971.6 143.3L972.3 138.8L972.9 138.7L973.4 135.4L974.2 135.1L974.2 133.5L974.8 137.2L975.5 138.7L976.1 143.6L976.9 143.2L977.3 147.7L978.0 143.3L978.5 144.8L979.0 141.5L979.5 141.4L980.4 137.6L981.0 137.5L981.5 134.4L981.5 136.9L982.2 141.1L983.0 150.9L983.5 152.0L983.6 155.9L984.1 151.4L985.0 149.6L985.8 142.7L986.7 140.7L986.7 139.4L987.4 144.1L988.2 144.2L988.8 147.2L989.3 146.8L989.8 149.3L990.3 147.0L991.1 147.9L991.8 142.9L992.6 143.8L992.9 141.3L993.4 145.4L993.9 143.7L994.6 148.0L995.4 148.8L996.0 151.5L996.8 147.7L997.7 147.0L998.5 141.7L999.1 143.1L1000.0 138.4L1000.1 139.1L1000.8 137.3L1001.5 138.2L1002.0 134.9L1002.5 136.7L1003.3 133.7L1003.8 135.3L1004.3 133.8L1004.9 134.7L1005.7 131.2L1006.4 132.7L1007.1 129.2L1007.4 131.6L1008.1 133.1L1008.8 138.6L1009.3 140.0L1009.4 142.9L1009.9 140.8L1010.7 143.0L1011.2 140.5L1011.6 143.7L1012.4 141.0L1013.2 143.4L1013.6 140.9L1014.4 144.3L1015.0 141.3L1015.6 144.2L1016.3 140.9L1016.8 144.2L1017.5 141.2L1017.7 143.0L1018.5 142.8L1019.0 147.3L1019.6 145.5L1020.5 151.3L1020.8 149.6L1021.5 150.1L1022.3 145.8L1023.0 146.0" stroke="#008000" stroke-opacity="0.7" stroke-width="3.0" fill="none" stroke-linejoin="round"/>
<path d="M114.0 326.5L116.4 574.4L118.4 324.7L120.5 540.4L123.0 319.9L124.1 550.6L125.9 323.8L128.2 561.4L130.1 324.8L132.3 599.4L133.6 335.8L134.9 402.7L136.8 338.0L138.2 403.0L140.4 342.1L142.6 392.2L144.8 341.7L146.1 398.7L148.0 333.4L150.1 407.7L151.8 356.3L153.8 403.2L155.0 342.5L157.2 390.3L159.2 354.2L161.3 392.5L162.7 349.9L163.9 412.6L165.0 355.2L167.0 404.5L169.1 345.0L170.9 399.6L172.8 347.0L174.6 385.6L176.9 338.0L179.3 393.2L181.4 347.0L183.1 408.1L185.2 342.2L187.0 331.4L188.8 416.5L192.1 331.3L193.7 401.1L197.0 358.5L198.6 442.8L201.3 353.8L203.8 421.7L206.4 349.4L208.3 461.5L211.1 353.4L213.2 420.9L215.4 368.9L218.8 454.2L220.8 366.5L224.1 440.1L227.1 359.2L230.4 582.4L232.2 365.3L234.0 573.4L235.6 352.6L238.0 424.2L240.8 363.6L243.2 421.0L245.9 352.9L248.6 469.1L251.0 362.1L254.2 440.8L257.0 377.9L258.5 430.8L261.1 362.1L263.7 455.5L266.2 361.1L268.8 396.2L271.8 360.6L274.3 404.1L277.6 367.1L280.4 400.7L281.9 400.2L283.5 380.1L285.0 412.8L285.6 387.9L286.8 416.8L287.2 405.7L288.2 384.9L289.1 400.0L289.5 422.0L290.2 399.5L291.7 436.8L293.0 420.3L294.0 434.9L295.6 403.9L296.7 459.0L298.2 423.7L299.3 452.0L299.8 402.7L300.6 417.0L302.0 433.8L303.3 411.3L303.9 434.5L304.6 416.0L305.2 407.1L306.8 422.1L307.2 406.3L308.5 423.5L309.2 411.7L310.3 418.9L310.9 422.1L311.4 404.4L312.1 420.4L313.1 406.8L314.7 424.3L315.4 405.6L316.1 407.8L316.6 417.7L317.7 421.4L318.8 404.4L319.4 425.3L320.5 419.0L321.5 410.4L321.9 409.3L322.9 423.1L324.3 412.0L325.2 419.9L326.1 423.3L326.8 408.5L328.2 419.3L329.3 421.8L329.7 403.7L331.0 421.0L331.7 402.8L333.2 419.6L334.7 407.7L336.1 413.5L336.7 400.1L337.4 418.2L338.1 417.3L339.2 400.8L340.3 417.1L340.8 398.2L342.2 416.2L343.4 402.5L344.6 409.1L346.1 399.3L346.8 404.7L347.8 394.0L349.4 398.8L349.8 392.5L351.3 401.0L351.9 389.8L352.5 393.4L353.7 398.7L354.9 390.8L355.3 398.2L356.9 393.9L357.7 389.3L359.2 393.0L359.7 383.1L360.8 392.3L361.5 390.8L362.8 381.4L364.0 393.7L364.5 380.8L365.8 395.3L367.4 378.9L368.0 390.6L368.9 383.2L370.2 394.4L371.0 381.0L371.8 394.3L372.7 381.6L374.1 389.2L375.5 377.6L376.7 392.8L377.7 378.3L379.0 393.0L380.4 377.4L381.8 391.1L382.3 377.3L383.4 392.1L384.8 382.0L385.9 379.9L386.3 381.3L387.7 389.9L388.7 378.0L389.3 394.3L390.9 393.9L392.0 381.3L393.4 387.9L394.2 384.7L394.9 392.8L396.1 384.5L396.8 391.7L397.9 382.5L398.4 393.9L399.4 383.1L400.1 393.7L400.8 384.9L401.6 393.4L402.4 383.5L403.0 392.1L403.7 382.1L404.2 389.6L405.3 381.6L406.5 393.5L407.6 394.7L408.8 383.3L410.1 393.5L411.2 380.8L412.3 395.7L412.9 386.0L414.1 395.2L414.6 380.6L416.2 396.0L416.8 383.6L417.8 396.4L418.6 379.5L420.1 395.7L420.7 385.0L421.4 392.3L422.0 379.3L422.8 396.2L423.5 386.0L424.4 395.8L425.2 384.0L426.7 382.1L427.9 389.6L428.3 385.0L429.6 394.5L431.2 380.9L432.4 389.3L433.7 393.5L435.1 384.9L435.9 395.5L436.6 379.5L437.1 393.2L438.0 384.6L439.0 392.3L440.1 380.6L441.6 393.7L442.9 384.5L443.8 390.1L445.0 384.0L445.5 394.4L446.2 396.7L447.6 383.7L448.7 392.5L449.6 395.7L450.2 384.1L451.5 395.6L452.9 387.1L453.4 383.7L454.9 400.2L456.4 387.3L457.4 404.8L458.6 393.6L460.0 398.7L460.7 404.3L461.4 393.9L462.1 406.7L463.4 395.6L464.5 404.7L465.3 406.3L466.4 396.1L467.9 412.6L469.3 395.8L470.5 415.4L470.9 395.4L472.0 416.2L472.7 404.2L473.1 398.2L474.1 414.5L475.3 413.4L476.3 421.1L477.0 400.8L478.4 402.5L479.8 424.4L480.5 401.7L481.6 419.5L482.1 400.4L482.6 403.0L483.5 417.3L484.5 403.5L485.2 416.1L486.1 403.2L486.9 419.3L488.0 401.2L489.4 418.2L490.4 401.8L490.8 420.5L491.3 406.8L492.1 418.7L493.4 405.1L494.8 411.9L495.8 400.8L497.3 405.0L497.7 419.7L499.1 405.8L499.6 413.6L500.9 404.3L502.3 400.1L503.1 402.0L504.1 417.9L505.2 413.5L506.8 405.7L508.3 403.8L509.5 416.4L510.8 398.1L511.8 415.5L513.3 401.5L513.7 407.5L514.5 407.3L515.9 410.3L517.4 396.0L518.5 396.2L520.1 407.0L521.6 397.8L523.0 407.5L524.1 396.2L524.7 407.5L525.3 409.0L526.0 393.9L527.5 408.4L528.5 408.5L529.5 394.6L530.5 407.8L531.5 397.8L532.4 405.4L532.9 391.8L533.4 401.3L534.8 391.6L536.4 405.6L538.0 394.1L538.9 403.5L540.5 390.2L541.1 401.3L542.0 392.7L542.4 402.1L543.1 394.1L544.7 399.5L545.6 389.1L546.2 398.6L546.9 400.0L547.6 389.2L549.1 400.2L550.4 387.0L551.8 396.5L553.2 386.5L553.8 394.3L555.4 384.4L556.3 397.8L557.0 387.7L557.5 384.5L558.8 393.7L560.5 396.6L563.3 384.5L565.8 393.5L568.0 381.3L570.6 390.7L572.6 381.6L574.7 389.4L577.4 378.1L580.1 386.0L583.1 376.9L585.8 382.3L588.2 374.2L589.7 379.6L592.5 375.0L594.3 377.7L595.9 371.8L597.4 377.6L600.3 370.9L602.5 375.9L604.6 371.1L607.3 377.3L609.6 376.1L612.0 369.0L613.6 371.8L615.8 367.2L618.6 369.8L620.4 371.4L623.0 366.2L624.8 368.8L627.0 361.8L629.4 366.3L631.8 358.6L633.9 365.9L636.8 360.2L639.7 359.2L641.8 365.5L643.6 359.4L645.4 364.8L647.7 361.3L650.5 366.1L652.2 362.1L653.8 366.9L656.4 362.7L658.1 368.4L660.5 369.9L662.4 362.7L664.1 370.1L667.0 364.7L670.0 370.3L672.0 366.1L674.0 366.4L676.3 369.9L678.2 365.7L681.2 371.9L683.9 366.7L686.8 371.4L688.6 364.4L690.4 369.2L692.6 366.7L694.0 370.2L696.4 370.7L698.5 365.8L700.6 370.1L702.7 363.6L705.0 369.3L707.6 363.1L710.1 368.5L711.7 363.8L713.2 368.0L715.1 368.6L717.7 364.1L720.4 363.7L722.1 366.8L724.3 363.7L726.8 369.0L728.8 364.5L731.3 367.2L733.7 363.9L736.0 368.3L738.6 364.7L741.4 370.3L743.1 364.9L746.0 373.0L747.6 371.5L749.2 368.5L752.2 370.1L755.0 379.7L756.8 372.5L759.2 379.6L761.6 375.7L763.1 382.9L765.8 381.8L767.9 387.9L769.5 391.8L772.2 385.7L774.5 397.5L775.5 396.1L776.3 390.7L777.4 399.0L778.5 392.9L780.1 403.8L781.1 397.5L783.0 405.3L784.7 404.1L785.7 409.6L787.2 404.7L788.0 408.7L789.8 403.8L790.5 415.5L791.9 405.1L793.4 413.7L794.7 421.2L795.5 407.4L797.0 423.0L798.4 409.4L800.0 426.7L801.1 425.8L802.5 417.6L804.4 410.4L805.3 423.7L806.8 410.4L808.7 430.7L810.4 417.7L811.4 430.0L812.2 411.9L813.6 427.7L814.6 413.7L816.3 432.4L817.4 419.1L819.2 434.0L820.7 411.8L822.5 434.2L824.3 422.2L826.1 430.9L826.8 412.6L828.5 431.2L830.5 432.8L831.3 415.6L833.0 429.9L834.7 416.5L835.8 422.7L837.0 428.1L838.0 420.3L839.9 434.7L840.8 416.6L841.5 434.7L842.2 417.3L843.9 433.3L844.9 432.2L845.7 400.8L846.4 433.6L847.7 407.0L849.0 431.1L850.8 432.1L852.3 434.0L853.6 407.7L854.5 426.3L856.3 411.1L857.3 435.5L858.7 428.9L859.5 442.8L860.7 420.9L862.3 443.6L863.0 434.9L865.0 423.3L865.9 433.9L866.9 428.8L867.5 438.1L868.1 429.1L870.1 436.7L871.0 425.9L873.0 436.4L874.2 426.4L874.8 440.5L875.9 447.7L876.5 423.8L878.4 452.2L879.6 421.3L881.1 449.2L882.1 426.7L883.0 449.3L884.6 422.2L885.7 447.3L886.4 426.5L887.4 442.9L888.7 424.1L889.9 448.2L891.6 427.9L893.0 444.5L894.0 431.4L895.4 438.8L896.7 421.8L898.7 426.8L899.6 425.1L900.3 413.8L902.3 413.5L903.0 420.1L904.1 412.5L904.7 413.4L906.0 424.1L907.3 416.3L908.7 421.6L909.6 415.1L910.9 423.3L912.0 417.8L913.7 428.2L914.9 421.7L916.9 432.4L917.8 418.7L918.9 438.0L920.5 428.8L922.4 440.2L924.0 429.5L925.5 447.7L926.4 430.5L927.6 428.6L928.9 444.3L930.2 428.0L931.3 428.9L932.6 444.6L933.3 430.8L934.1 445.4L935.2 430.3L936.1 439.8L937.4 417.1L938.1 430.6L938.8 414.8L940.0 410.4L940.7 424.9L942.7 410.7L943.4 425.4L944.3 415.5L945.3 424.1L946.7 412.3L948.1 415.6L949.3 413.6L950.8 422.4L951.8 413.0L952.6 419.6L954.3 411.8L955.9 419.0L957.9 416.9L958.6 412.4L959.9 421.6L961.6 414.3L963.3 422.3L964.0 413.1L965.6 419.5L967.2 410.2L968.7 408.6L969.7 417.6L970.8 412.8L972.0 418.1L973.8 412.0L975.0 417.5L975.6 418.9L976.4 435.3L977.0 433.4L977.7 429.7L978.6 448.0L979.5 449.9L979.6 456.3L980.5 456.8L981.3 470.6L982.0 474.4L982.2 481.0L983.0 486.1L984.1 507.2L984.8 515.1L985.6 532.1L986.0 532.3L986.7 552.7L987.5 566.6L988.2 583.4L988.8 594.4L990.0 595.1L990.6 594.3L991.7 595.5L992.6 529.3L992.9 518.8L993.7 501.3L994.4 494.5L995.5 469.6L996.1 471.8L996.6 455.2L997.2 456.7L998.0 445.6L999.0 444.8L999.7 429.8L1000.8 431.4L1001.0 421.4L1002.2 425.3L1002.9 415.7L1004.1 422.6L1004.9 414.8L1005.6 420.2L1006.3 411.8L1007.1 417.4L1007.9 408.1L1008.2 411.2L1009.0 406.5L1009.9 407.2L1010.8 402.7L1011.4 408.4L1012.2 398.7L1013.2 404.1L1013.9 398.5L1014.7 398.0L1015.6 392.1L1016.7 392.7L1017.9 383.0L1018.7 390.3L1019.8 374.6L1019.8 381.2L1020.6 372.3L1021.6 383.2L1022.3 373.8L1023.3 377.2L1024.5 367.1L1025.0 372.0" stroke="#0000ff" stroke-opacity="0.8" stroke-width="2.6" stroke-dasharray="2.5 3.7" fill="none"/>
<g stroke="#008000" stroke-opacity="0.75" stroke-width="2.6" stroke-dasharray="2.5 3.7" fill="none"><path d="M114.0 511.0L115.5 576.0L117.8 502.7L118.9 578.2L120.5 476.7L122.7 589.1L124.5 504.2L125.7 589.4L127.0 480.2L129.1 596.4L130.9 492.7L132.7 595.5L134.1 526.0L136.3 577.5L138.2 524.2L139.8 593.0L142.0 510.3L144.2 573.4L146.2 491.0L147.3 582.5L148.8 514.6L151.0 578.8L152.4 525.3L153.9 584.8L155.7 522.5L157.9 584.3L159.7 517.7L160.9 584.1L162.7 527.3L163.8 596.6L165.8 467.5L167.4 590.5L169.2 436.6L170.3 576.2L172.3 431.2L174.3 586.9L175.5 495.4L177.0 574.9L178.3 475.8L179.9 572.6L180.8 468.0L182.9 570.6L184.4 498.3L185.5 597.8L186.9 460.0L188.8 599.8L190.2 443.8L191.2 599.2L193.0 467.0L194.0 598.9L196.1 457.5L198.0 586.4L200.2 512.2L201.3 577.1L202.4 488.1L203.5 581.9L205.2 479.9L207.1 599.5L208.4 492.3L210.4 580.6L212.4 453.5L214.1 575.1L216.2 435.1L217.4 483.7L219.1 433.7L220.9 493.9L222.5 439.5L224.5 501.9L226.5 419.1L227.7 501.1L229.2 433.6L230.2 502.7L231.5 456.6L233.2 574.2L235.5 476.6L236.8 589.7L237.9 468.5L239.4 598.5L241.4 436.3L243.2 459.8L244.7 428.1L246.1 452.0L248.0 430.9L249.2 454.2L250.6 436.7L252.1 570.5L253.1 564.1L255.0 581.5L256.8 566.2L258.5 580.4L259.5 564.2L261.2 577.4L262.3 553.0L264.1 586.5L265.6 570.8L266.9 594.8L268.5 566.4L269.6 587.1L270.8 569.9L272.0 573.2L273.7 557.0L275.7 581.6L277.6 570.2L279.1 584.3L281.0 555.2L282.9 583.5L284.0 571.4L284.7 544.6L286.0 526.9L287.1 527.6L288.7 554.6L289.1 569.0L289.9 524.4L290.8 555.8L291.7 516.0L292.7 570.7L293.6 515.5L294.5 565.4L295.5 511.3L295.9 544.9L296.6 510.0L297.7 534.0L298.3 507.4L298.8 533.0L299.9 535.2L301.0 508.3L301.7 527.9L302.3 516.6L303.8 522.9L305.5 533.6L306.0 517.5L307.1 534.3L307.8 518.0L308.6 528.4L309.4 508.9L310.2 542.0L311.2 510.6L312.3 537.1L313.3 535.0L314.3 523.1L315.6 530.7L316.3 558.8L317.7 515.1L318.7 558.5L319.5 525.3L320.5 551.7L321.7 522.6L322.3 554.9L323.9 525.0L325.0 555.4L326.6 522.5L327.5 552.9L328.7 526.4L330.2 556.9L330.7 526.0L331.7 559.9L332.2 518.1L332.9 559.6L334.4 533.8L335.9 570.4L336.6 521.8L337.6 558.9L338.7 527.9L340.2 567.7L340.8 524.0L341.4 568.4L342.1 525.4L343.5 568.7L345.2 534.2L346.5 571.6L347.5 520.8L348.7 563.4L349.2 528.0L350.4 574.8L350.9 541.1L352.5 558.3L353.1 575.6L354.6 537.3L356.0 572.5L356.5 541.8L358.2 582.8L359.5 577.4L361.3 544.3L362.3 584.9L364.0 541.9L365.1 580.5L366.9 548.1L367.3 581.8L368.9 539.4L369.3 575.6L370.3 504.9L370.9 575.1L371.6 504.7L372.0 540.0L372.7 525.0L373.9 514.0L374.7 528.2L375.1 514.3L376.5 531.7L377.1 537.8L377.9 499.3L379.4 533.1L380.3 497.1L381.2 538.5L382.3 488.6L383.9 487.3L384.4 527.1L385.6 491.1L387.0 487.9L388.6 529.8L389.1 486.5L390.5 533.3L391.3 493.4L392.4 525.3L392.9 537.1L394.4 501.7L395.7 523.4L396.1 491.1L396.7 537.3L397.3 485.8L398.1 540.7L398.7 496.9L399.8 492.4L401.5 555.0L402.5 496.1L404.0 546.0L405.3 559.7L406.6 486.3L408.2 548.0L409.9 479.6L410.4 537.4L412.1 470.3L413.0 533.4L414.4 478.8L415.7 530.9L417.4 522.8L419.1 478.1L420.8 510.5L422.2 466.8L424.0 524.5L424.7 476.6L426.4 527.7L427.3 466.7L428.5 521.9L430.1 461.1L431.2 482.4L431.9 437.2L433.2 463.4L434.1 437.5L435.8 470.3L436.8 423.1L437.9 429.6L439.3 469.8L440.9 440.9L441.8 473.7L443.0 465.9L444.5 447.9L445.0 455.1L446.7 462.6L447.8 446.1L449.0 464.1L449.6 438.5L451.2 463.3L452.8 451.7L454.4 458.2L456.1 469.8L457.9 450.1L459.1 471.4L460.8 443.1L461.6 468.9L462.6 482.5L463.0 447.5L463.6 478.3L465.1 467.7L466.4 487.9L467.6 454.3L468.2 493.7L469.3 487.0L471.0 451.1L472.4 495.0L472.9 460.3L474.4 477.1L475.6 455.3L476.5 456.6L477.7 460.9L478.9 484.2L479.6 461.8L480.5 478.9L481.2 474.9L482.4 460.4L483.4 474.8L485.1 450.6L485.8 448.5L486.8 470.8L488.2 446.1L489.4 469.7L491.0 469.4L491.8 453.0L492.5 472.3L493.8 443.5L495.5 469.4L496.5 452.5L498.1 474.0L499.5 452.3L499.9 463.4L501.4 444.8L502.4 473.4L504.0 463.7L504.5 448.0L505.1 469.7L505.9 451.2L506.3 472.1L507.3 477.0L509.0 451.2L509.7 473.4L511.3 452.6L512.6 483.5L513.8 463.9L514.7 483.7L515.2 448.5L516.1 470.1L516.8 455.5L517.7 447.2L518.5 483.9L519.6 447.9L520.6 473.9L522.3 455.8L523.0 489.9L524.0 447.4L524.5 444.7L525.6 481.1L526.7 480.3L528.0 448.8L528.5 443.2L529.4 446.2L530.1 485.9L531.5 439.4L532.7 479.6L533.8 481.7L535.0 441.3L536.0 478.6L537.3 470.4L538.3 446.5L539.8 479.5L540.8 445.8L541.5 446.5L543.0 473.4L543.7 452.9L545.5 467.4L546.6 454.4L547.2 474.6L547.6 456.9L549.3 474.3L550.5 465.3L552.2 472.9L552.8 451.2L554.6 457.2L555.1 475.7L556.4 448.9L557.3 480.0L558.1 451.6L559.1 464.9L560.8 446.5L562.3 463.3L564.0 441.1L565.1 454.8L566.7 441.6L567.4 447.2L568.3 438.3L569.3 437.7L569.8 449.4L571.0 434.6L571.8 451.1L572.4 437.7L573.6 452.0L574.7 436.8L576.5 469.1L577.1 446.0L578.1 447.5L579.7 460.7L581.3 485.8L582.4 442.9L583.1 479.3L584.8 445.2L586.3 470.8L587.7 465.4L588.6 474.7L590.1 451.8L591.4 491.4L592.4 472.1L592.6 507.7L593.7 567.2L594.0 580.6L595.4 597.2L595.5 595.4L596.7 525.7L597.0 507.3L598.5 508.0L599.0 502.9L599.8 507.2L600.6 501.3L601.2 506.3L602.7 532.1L603.0 541.7L604.1 582.5L605.0 597.5L605.0 596.0"/><path d="M650.3 597.7L651.1 560.4L651.7 537.4L652.7 553.9L653.5 571.1L653.5 568.7L654.6 589.8L655.0 594.6L655.9 580.8L657.0 558.6L658.5 542.5L658.9 535.4L659.6 536.7L660.0 535.3L661.1 582.7L661.4 596.0"/><path d="M681.6 596.9L682.9 520.7L683.1 514.1L684.0 504.9L684.8 508.7L686.0 497.1L687.5 497.9L688.9 482.3L688.9 491.3L689.8 493.0L690.7 507.9L691.6 512.9L691.7 517.5L692.4 505.7L693.5 500.9L694.0 488.4L695.5 484.1L696.9 474.5L697.5 474.0L698.3 478.8L699.3 497.4L700.1 505.3L700.4 514.8L701.6 492.6L703.0 489.8L703.5 478.2L705.0 483.7L706.2 476.8L707.5 478.0L708.2 471.4L709.4 476.3L710.5 466.6L711.9 479.0L713.0 477.3L714.5 486.6L714.8 483.8L715.8 496.3L717.3 496.3L718.0 506.8L718.8 500.6L719.2 511.6L720.0 499.7L721.0 495.5L721.8 487.1L722.0 491.7L722.8 511.6L723.8 554.7L724.7 585.7L725.0 596.2L725.9 566.9L726.8 546.4L727.0 537.6L728.1 528.8L729.1 515.5L729.3 516.2L730.7 506.0L731.5 507.5L732.5 497.6L733.6 497.7L734.6 509.1L735.4 522.3L736.5 533.2L737.3 547.5L738.1 556.5L739.2 574.6L740.2 586.5L740.8 596.1L742.2 535.0L743.6 486.1L743.7 475.1L745.1 463.7L745.9 450.1L746.6 444.4L747.9 461.9L749.4 491.3L750.4 504.2L750.9 517.2L751.7 528.6L752.6 549.4L753.8 567.4L755.2 596.2L755.9 580.9L757.2 556.5L758.0 537.9L758.7 526.2L759.9 498.0L761.0 478.2L761.9 457.8L762.5 447.1L763.8 472.4L764.6 496.4L765.3 508.0L766.5 546.0L767.8 584.2L768.2 596.2L769.4 581.1L770.2 573.2L771.2 557.6L772.5 547.0L772.5 541.8L773.4 514.3L774.8 457.6L775.4 438.9L776.6 434.0L777.9 438.5L778.6 434.2L780.1 437.8L781.2 432.6L782.6 423.3L783.3 415.7L784.1 410.7L785.2 425.9L786.0 441.0L787.4 461.0L788.3 477.1L789.8 498.7L789.9 503.9L790.7 487.6L791.7 472.0L792.7 451.9L794.0 435.5L794.2 426.5L795.0 441.3L796.5 458.9L797.5 474.8L798.5 483.9L799.6 505.4L800.5 515.4L801.4 531.5L802.2 502.3L803.2 474.8L804.2 437.0L804.3 436.9L805.3 438.1L806.7 449.1L807.8 452.8L808.6 460.0L809.9 438.4L811.3 426.6L812.6 397.8L813.0 407.6L813.8 387.7L814.8 385.5L816.0 367.6L817.4 364.6L818.0 357.9L819.5 371.0L820.2 359.6L821.0 371.1L821.8 367.9L822.8 374.0L823.8 371.6L824.6 383.6L825.7 372.7L826.0 378.9L827.2 372.2L828.7 387.1L830.0 377.8L831.3 388.0L832.2 378.3L833.4 376.0L834.9 357.0L835.0 371.2L835.8 360.1L837.3 363.8L838.6 360.1L839.7 362.9L840.7 354.9L841.9 367.1L842.7 357.2L844.0 364.7L844.9 352.0L846.4 360.4L847.6 356.1L848.7 359.0L849.8 349.8L850.3 359.6L851.3 353.6L852.4 361.9L853.9 346.9L854.0 356.2L855.1 350.7L856.0 360.6L856.9 360.5L857.0 362.9L858.4 360.0L859.8 370.3L860.7 362.6L861.6 375.2L862.6 363.1L862.6 373.3L863.8 363.8L864.8 364.2L866.3 346.0L867.0 352.7L867.0 342.2L868.3 345.6L869.2 333.3L870.1 336.0L871.2 319.8L872.0 328.4L872.7 310.7L873.8 322.2L874.8 316.0L876.1 324.6L877.5 322.7L877.6 326.4L878.6 328.1L879.7 340.4L880.4 338.9L881.5 346.2L882.8 343.9L884.0 354.4L885.1 345.8L885.8 355.7L887.2 350.7L887.8 355.5L888.9 351.7L889.9 358.0L890.6 348.3L891.8 355.9L893.0 344.8L894.0 346.5L895.1 337.9L896.1 338.6L896.9 328.3L897.6 330.8L899.1 312.6L900.2 327.9L901.5 319.6L902.7 326.8L903.7 320.7L904.0 332.3L905.1 335.7L906.2 352.0L906.9 354.1L907.8 365.8L907.9 363.4L908.9 366.0L909.9 349.8L910.7 347.2L911.7 331.2L912.9 331.3L912.9 328.0L914.0 351.5L915.3 373.5L915.5 378.6L916.7 454.1L916.7 459.0L917.3 537.7L918.4 497.6L919.0 467.1L920.5 445.2L921.3 429.8L922.5 412.3L923.3 393.5L924.3 379.9L925.1 403.3L925.9 434.9L927.0 467.3L928.4 509.3L929.7 539.5L931.0 577.3L931.7 595.1L933.0 554.1L933.8 525.6L934.0 521.9L935.4 498.3L936.4 485.0L937.7 461.6L938.0 461.9L939.4 432.4L940.4 417.8L941.5 394.4L941.9 388.5L942.6 392.0L943.7 403.0L944.9 407.2L945.7 417.3L946.7 454.8L947.6 488.6L948.7 526.8L949.9 576.0L950.5 595.3L951.8 587.0L952.6 580.2L954.0 572.4L954.9 555.9L955.9 543.2L957.3 520.6L957.5 521.9L958.7 476.3L959.8 442.7L960.7 408.7L961.9 393.0L963.2 370.9L964.1 364.3L964.9 351.8L966.0 347.1L966.9 330.0L967.0 335.6L968.1 337.6L969.3 347.4L970.2 347.9L971.4 357.5L972.8 359.8L973.3 367.5L974.4 349.5L975.7 333.9L976.7 312.5L977.6 306.8L977.6 303.2L978.6 312.3L979.5 311.0L980.3 323.4L981.2 323.9L982.2 331.2L983.4 335.6L984.7 337.2L985.7 327.7L986.0 333.8L987.0 310.5L988.0 305.2L989.0 284.5L989.9 277.5L990.9 260.8L991.0 266.1L992.0 267.3L993.1 279.7L993.9 279.6L994.7 289.9L995.0 287.3L996.1 298.1L997.5 296.9L997.6 301.9L998.8 293.5L999.6 300.6L1000.2 290.3L1001.2 291.9L1002.7 283.1L1003.6 282.4L1004.0 276.2L1005.3 280.8L1006.8 272.4L1008.0 276.1L1008.7 272.1L1009.4 274.8L1010.5 261.9L1011.5 264.5L1012.0 257.7L1013.1 264.4L1014.3 259.7L1014.9 261.5L1015.7 263.4L1016.2 270.2L1017.0 263.7L1017.8 271.5L1018.7 265.4L1020.0 269.6L1020.8 263.1L1022.2 267.6L1023.0 265.0"/></g>
</g>
<g stroke="#000" stroke-width="1.6">
<line x1="114.30" y1="590.40" x2="114.30" y2="585.90" stroke-width="2"/>
<line x1="227.91" y1="590.40" x2="227.91" y2="585.90" stroke-width="2"/>
<line x1="341.52" y1="590.40" x2="341.52" y2="585.90" stroke-width="2"/>
<line x1="455.14" y1="590.40" x2="455.14" y2="585.90" stroke-width="2"/>
<line x1="568.75" y1="590.40" x2="568.75" y2="585.90" stroke-width="2"/>
<line x1="682.36" y1="590.40" x2="682.36" y2="585.90" stroke-width="2"/>
<line x1="795.98" y1="590.40" x2="795.98" y2="585.90" stroke-width="2"/>
<line x1="909.59" y1="590.40" x2="909.59" y2="585.90" stroke-width="2"/>
<line x1="1023.20" y1="590.40" x2="1023.20" y2="585.90" stroke-width="2"/>
<line x1="114.30" y1="590.40" x2="118.80" y2="590.40" stroke-width="2.2"/>
<line x1="114.30" y1="533.33" x2="118.30" y2="533.33" stroke-width="1.6"/>
<line x1="114.30" y1="499.95" x2="118.30" y2="499.95" stroke-width="1.6"/>
<line x1="114.30" y1="476.27" x2="118.30" y2="476.27" stroke-width="1.6"/>
<line x1="114.30" y1="457.90" x2="118.30" y2="457.90" stroke-width="1.6"/>
<line x1="114.30" y1="442.89" x2="118.30" y2="442.89" stroke-width="1.6"/>
<line x1="114.30" y1="430.20" x2="118.30" y2="430.20" stroke-width="1.6"/>
<line x1="114.30" y1="419.20" x2="118.30" y2="419.20" stroke-width="1.6"/>
<line x1="114.30" y1="409.51" x2="118.30" y2="409.51" stroke-width="1.6"/>
<line x1="114.30" y1="400.83" x2="118.80" y2="400.83" stroke-width="2.2"/>
<line x1="114.30" y1="343.77" x2="118.30" y2="343.77" stroke-width="1.6"/>
<line x1="114.30" y1="310.39" x2="118.30" y2="310.39" stroke-width="1.6"/>
<line x1="114.30" y1="286.70" x2="118.30" y2="286.70" stroke-width="1.6"/>
<line x1="114.30" y1="268.33" x2="118.30" y2="268.33" stroke-width="1.6"/>
<line x1="114.30" y1="253.32" x2="118.30" y2="253.32" stroke-width="1.6"/>
<line x1="114.30" y1="240.63" x2="118.30" y2="240.63" stroke-width="1.6"/>
<line x1="114.30" y1="229.64" x2="118.30" y2="229.64" stroke-width="1.6"/>
<line x1="114.30" y1="219.94" x2="118.30" y2="219.94" stroke-width="1.6"/>
<line x1="114.30" y1="211.27" x2="118.80" y2="211.27" stroke-width="2.2"/>
<line x1="114.30" y1="154.20" x2="118.30" y2="154.20" stroke-width="1.6"/>
<line x1="114.30" y1="120.82" x2="118.30" y2="120.82" stroke-width="1.6"/>
<line x1="114.30" y1="97.14" x2="118.30" y2="97.14" stroke-width="1.6"/>
<line x1="114.30" y1="78.77" x2="118.30" y2="78.77" stroke-width="1.6"/>
<line x1="114.30" y1="63.76" x2="118.30" y2="63.76" stroke-width="1.6"/>
<line x1="114.30" y1="51.06" x2="118.30" y2="51.06" stroke-width="1.6"/>
<line x1="114.30" y1="40.07" x2="118.30" y2="40.07" stroke-width="1.6"/>
<line x1="114.30" y1="30.37" x2="118.30" y2="30.37" stroke-width="1.6"/>
</g>
<rect x="114.30" y="21.70" width="908.90" height="568.70" fill="none" stroke="#000" stroke-width="2.5"/>
<text transform="translate(105.66 620.20) scale(0.9100 1)" font-size="38.00" >0</text>
<text transform="translate(210.54 620.20) scale(0.9100 1)" font-size="38.00" >20</text>
<text transform="translate(324.54 620.20) scale(0.9100 1)" font-size="38.00" >40</text>
<text transform="translate(437.76 620.20) scale(0.9100 1)" font-size="38.00" >60</text>
<text transform="translate(551.46 620.20) scale(0.9100 1)" font-size="38.00" >80</text>
<text transform="translate(655.56 620.20) scale(0.9100 1)" font-size="38.00" >100</text>
<text transform="translate(769.18 620.20) scale(0.9100 1)" font-size="38.00" >120</text>
<text transform="translate(882.79 620.20) scale(0.9100 1)" font-size="38.00" >140</text>
<text transform="translate(996.40 620.20) scale(0.9100 1)" font-size="38.00" >160</text>
<text transform="translate(49.78 35.10) scale(0.9383 1)" font-size="38.00" >10</text>
<text transform="translate(85.60 22.00) scale(0.9488 1)" font-size="26.50" >18</text>
<text transform="translate(49.78 224.67) scale(0.9383 1)" font-size="38.00" >10</text>
<text transform="translate(85.62 211.57) scale(0.9381 1)" font-size="26.50" >17</text>
<text transform="translate(49.78 414.23) scale(0.9383 1)" font-size="38.00" >10</text>
<text transform="translate(85.62 401.13) scale(0.9407 1)" font-size="26.50" >16</text>
<text transform="translate(49.78 603.80) scale(0.9383 1)" font-size="38.00" >10</text>
<text transform="translate(85.59 590.70) scale(0.9515 1)" font-size="26.50" >15</text>
<text transform="translate(451.72 661.50) scale(1.1569 1)" font-size="38.00" font-style="italic" >t</text>
<line x1="477.2" y1="652.8" x2="500" y2="652.8" stroke="#000" stroke-width="1.6"/>
<text transform="translate(511.00 661.50) scale(1.1673 1)" font-size="38.00" font-style="italic" >t</text>
<text transform="translate(524.86 667.70) scale(1.0216 1)" font-size="26.50" >merger</text>
<text transform="translate(616.57 661.50) scale(0.9502 1)" font-size="38.00" >(ms)</text>
<text transform="translate(206.93 62.40) scale(1.1026 1)" font-size="26.50" font-style="italic" >r</text>
<line x1="228.4" y1="53.60" x2="245.3" y2="53.60" stroke="#000" stroke-width="1.15"/><line x1="228.4" y1="58.40" x2="245.3" y2="58.40" stroke="#000" stroke-width="1.15"/>
<text transform="translate(254.79 62.40) scale(0.9185 1)" font-size="26.50" >8.0</text>
<text transform="translate(294.67 62.40) scale(0.9950 1)" font-size="26.50" >km,</text>
<text transform="translate(342.68 62.40) scale(1.1304 1)" font-size="26.50" >Δ</text>
<text transform="translate(362.60 62.40) scale(1.1992 1)" font-size="26.50" font-style="italic" >x</text>
<line x1="386.4" y1="53.60" x2="402.6" y2="53.60" stroke="#000" stroke-width="1.15"/><line x1="386.4" y1="58.40" x2="402.6" y2="58.40" stroke="#000" stroke-width="1.15"/>
<text transform="translate(412.38 62.40) scale(0.9559 1)" font-size="26.50" >12.5</text>
<text transform="translate(464.27 62.40) scale(0.9910 1)" font-size="26.50" >m</text>
<text transform="translate(206.93 97.40) scale(1.1026 1)" font-size="26.50" font-style="italic" >r</text>
<line x1="228.4" y1="88.60" x2="245.3" y2="88.60" stroke="#000" stroke-width="1.15"/><line x1="228.4" y1="93.40" x2="245.3" y2="93.40" stroke="#000" stroke-width="1.15"/>
<text transform="translate(254.63 97.40) scale(0.9490 1)" font-size="26.50" >20.0</text>
<text transform="translate(306.06 97.40) scale(1.0159 1)" font-size="26.50" >km,</text>
<text transform="translate(354.88 97.40) scale(1.1304 1)" font-size="26.50" >Δ</text>
<text transform="translate(374.99 97.40) scale(1.1740 1)" font-size="26.50" font-style="italic" >x</text>
<line x1="398.9" y1="88.60" x2="415.0" y2="88.60" stroke="#000" stroke-width="1.15"/><line x1="398.9" y1="93.40" x2="415.0" y2="93.40" stroke="#000" stroke-width="1.15"/>
<text transform="translate(424.78 97.40) scale(0.9559 1)" font-size="26.50" >12.5</text>
<text transform="translate(476.67 97.40) scale(0.9910 1)" font-size="26.50" >m</text>
<text transform="translate(207.08 132.40) scale(1.1304 1)" font-size="26.50" >Δ</text>
<text transform="translate(226.98 132.40) scale(1.1572 1)" font-size="26.50" font-style="italic" >x</text>
<line x1="252.2" y1="123.60" x2="268.2" y2="123.60" stroke="#000" stroke-width="1.15"/><line x1="252.2" y1="128.40" x2="268.2" y2="128.40" stroke="#000" stroke-width="1.15"/>
<text transform="translate(276.84 132.40) scale(0.9390 1)" font-size="26.50" >200.0</text>
<text transform="translate(340.77 132.40) scale(1.0012 1)" font-size="26.50" >m</text>
<g transform="rotate(-90)"><text transform="translate(-425.83 34.20) scale(0.8130 1)" font-size="38.00" >Φ</text><text transform="translate(-400.30 43.00) scale(1.1408 1)" font-size="26.60" font-style="italic" >B</text><text transform="translate(-379.01 43.00) scale(0.6719 1)" font-size="26.60" font-style="italic" >r</text><text transform="translate(-364.63 35.50) scale(0.9029 1)" font-size="40.00" >(</text><text transform="translate(-351.99 34.20) scale(0.8511 1)" font-size="38.00" font-style="italic" >r</text><text transform="translate(-337.23 35.50) scale(0.7961 1)" font-size="40.00" >)</text><text transform="translate(-298.67 35.50) scale(0.8058 1)" font-size="40.00" >(</text><text transform="translate(-287.35 34.20) scale(0.8907 1)" font-size="38.00" >G</text><text transform="translate(-247.71 34.20) scale(0.9319 1)" font-size="38.00" >km</text><text transform="translate(-201.94 21.30) scale(1.0087 1)" font-size="26.60" >2</text><text transform="translate(-187.05 35.50) scale(0.8058 1)" font-size="40.00" >)</text></g>
<line x1="6.7" y1="432.1" x2="43.5" y2="432.1" stroke="#000" stroke-width="1.5"/>
<line x1="6.7" y1="317.8" x2="43.5" y2="317.8" stroke="#000" stroke-width="1.5"/>
<line x1="21.4" y1="397" x2="21.4" y2="386.5" stroke="#000" stroke-width="1.2"/>
<line x1="135.5" y1="53.3" x2="188.7" y2="53.3" stroke="#0000ff" stroke-opacity="0.7" stroke-width="2.4"/>
<line x1="135.5" y1="88.5" x2="188.7" y2="88.5" stroke="#008000" stroke-opacity="0.7" stroke-width="2.4"/>
<line x1="136.5" y1="123.3" x2="188.7" y2="123.3" stroke="#0000ff" stroke-opacity="0.8" stroke-width="2.6" stroke-dasharray="2.5 3.7"/>
</svg>
</body></html>
